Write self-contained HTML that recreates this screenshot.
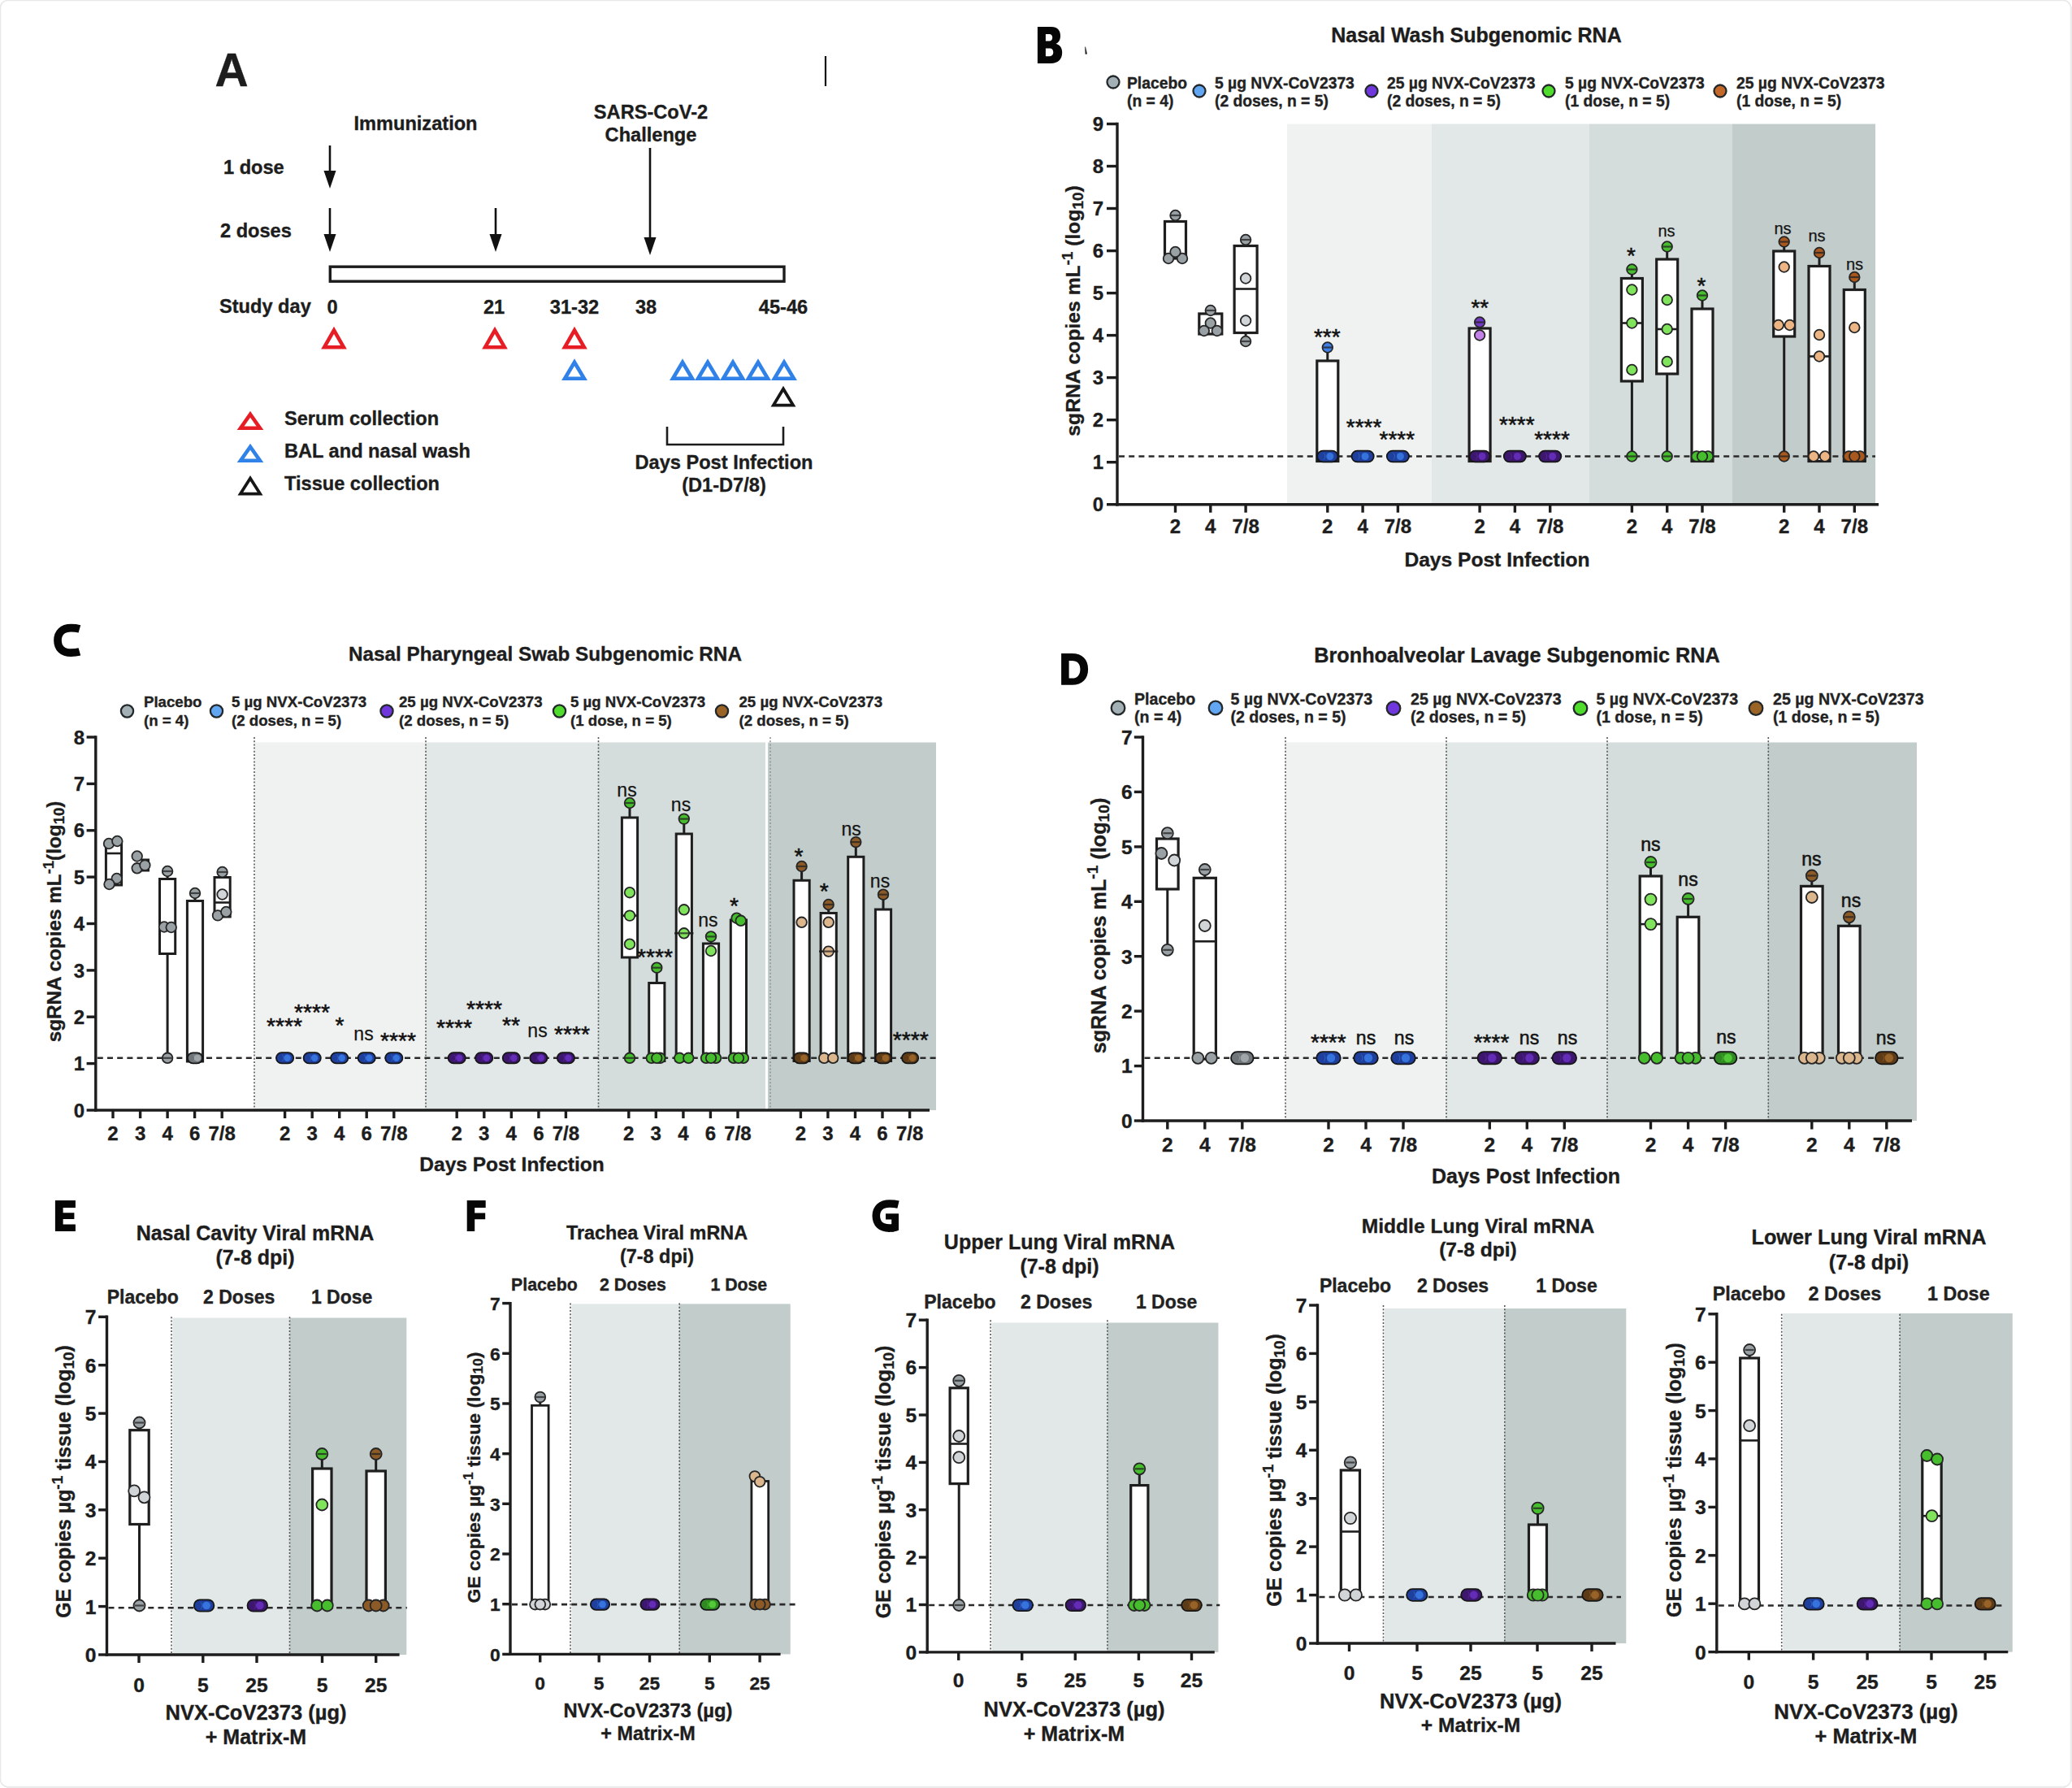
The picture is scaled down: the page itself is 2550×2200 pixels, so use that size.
<!DOCTYPE html>
<html><head><meta charset="utf-8"><title>Figure</title>
<style>html,body{margin:0;padding:0;background:#fff;}svg{display:block;}text{font-family:"Liberation Sans",sans-serif;}</style></head>
<body>
<svg width="2550" height="2200" viewBox="0 0 2550 2200" font-family="'Liberation Sans', sans-serif">
<rect x="0.0" y="0.0" width="2550.0" height="2200.0" fill="#ffffff" stroke="none" stroke-width="0" />
<rect x="0.5" y="0.5" width="2548" height="2198" rx="9" ry="9" fill="#fff" stroke="#e9e9e9" stroke-width="1.6"/>
<rect x="2548.0" y="8.0" width="2.0" height="2184.0" fill="#ececec" stroke="none" stroke-width="0" />
<rect x="8.0" y="2198.0" width="2534.0" height="2.0" fill="#ececec" stroke="none" stroke-width="0" />
<text x="264.5" y="106.0" font-size="57" text-anchor="start" font-weight="bold" fill="#1d1d1d"  stroke="#1d1d1d" stroke-width="0.35">A</text>
<line x1="1016.0" y1="69.0" x2="1016.0" y2="106.0" stroke="#111" stroke-width="2.2" />
<text x="511.5" y="160.0" font-size="23.6" text-anchor="middle" font-weight="bold" fill="#1d1d1d"  stroke="#1d1d1d" stroke-width="0.35">Immunization</text>
<text x="801.0" y="146.0" font-size="23.6" text-anchor="middle" font-weight="bold" fill="#1d1d1d"  stroke="#1d1d1d" stroke-width="0.35">SARS-CoV-2</text>
<text x="801.0" y="174.0" font-size="23.6" text-anchor="middle" font-weight="bold" fill="#1d1d1d"  stroke="#1d1d1d" stroke-width="0.35">Challenge</text>
<text x="275.0" y="214.0" font-size="23.6" text-anchor="start" font-weight="bold" fill="#1d1d1d"  stroke="#1d1d1d" stroke-width="0.35">1 dose</text>
<text x="271.0" y="292.0" font-size="23.6" text-anchor="start" font-weight="bold" fill="#1d1d1d"  stroke="#1d1d1d" stroke-width="0.35">2 doses</text>
<line x1="406.0" y1="179.0" x2="406.0" y2="214.0" stroke="#111" stroke-width="2.6" />
<polygon points="398.5,210.0 413.5,210.0 406.0,232.0" fill="#111"/>
<line x1="406.0" y1="256.0" x2="406.0" y2="292.0" stroke="#111" stroke-width="2.6" />
<polygon points="398.5,288.0 413.5,288.0 406.0,310.0" fill="#111"/>
<line x1="610.0" y1="256.0" x2="610.0" y2="292.0" stroke="#111" stroke-width="2.6" />
<polygon points="602.5,288.0 617.5,288.0 610.0,310.0" fill="#111"/>
<line x1="800.0" y1="182.0" x2="800.0" y2="296.0" stroke="#111" stroke-width="2.6" />
<polygon points="792.5,292.0 807.5,292.0 800.0,314.0" fill="#111"/>
<rect x="406.3" y="328.2" width="558.7" height="18.0" fill="#fff" stroke="#1c1c1c" stroke-width="3.4" />
<text x="270.0" y="385.0" font-size="23.6" text-anchor="start" font-weight="bold" fill="#1d1d1d"  stroke="#1d1d1d" stroke-width="0.35">Study day</text>
<text x="409.0" y="386.0" font-size="23.6" text-anchor="middle" font-weight="bold" fill="#1d1d1d"  stroke="#1d1d1d" stroke-width="0.35">0</text>
<text x="608.0" y="386.0" font-size="23.6" text-anchor="middle" font-weight="bold" fill="#1d1d1d"  stroke="#1d1d1d" stroke-width="0.35">21</text>
<text x="707.0" y="386.0" font-size="23.6" text-anchor="middle" font-weight="bold" fill="#1d1d1d"  stroke="#1d1d1d" stroke-width="0.35">31-32</text>
<text x="795.0" y="386.0" font-size="23.6" text-anchor="middle" font-weight="bold" fill="#1d1d1d"  stroke="#1d1d1d" stroke-width="0.35">38</text>
<text x="964.0" y="386.0" font-size="23.6" text-anchor="middle" font-weight="bold" fill="#1d1d1d"  stroke="#1d1d1d" stroke-width="0.35">45-46</text>
<polygon points="411.0,406.3 399.1,427.2 422.9,427.2" fill="#fff" stroke="#e71d25" stroke-width="4.6" stroke-linejoin="miter"/>
<polygon points="609.0,406.3 597.1,427.2 620.9,427.2" fill="#fff" stroke="#e71d25" stroke-width="4.6" stroke-linejoin="miter"/>
<polygon points="707.0,406.3 695.1,427.2 718.9,427.2" fill="#fff" stroke="#e71d25" stroke-width="4.6" stroke-linejoin="miter"/>
<polygon points="707.0,445.8 695.1,465.7 718.9,465.7" fill="#fff" stroke="#3182e8" stroke-width="4.6" stroke-linejoin="miter"/>
<polygon points="840.0,445.8 828.1,465.7 851.9,465.7" fill="#fff" stroke="#3182e8" stroke-width="4.6" stroke-linejoin="miter"/>
<polygon points="871.0,445.8 859.1,465.7 882.9,465.7" fill="#fff" stroke="#3182e8" stroke-width="4.6" stroke-linejoin="miter"/>
<polygon points="902.0,445.8 890.1,465.7 913.9,465.7" fill="#fff" stroke="#3182e8" stroke-width="4.6" stroke-linejoin="miter"/>
<polygon points="933.0,445.8 921.1,465.7 944.9,465.7" fill="#fff" stroke="#3182e8" stroke-width="4.6" stroke-linejoin="miter"/>
<polygon points="965.0,445.8 953.1,465.7 976.9,465.7" fill="#fff" stroke="#3182e8" stroke-width="4.6" stroke-linejoin="miter"/>
<polygon points="964.0,478.5 951.9,498.6 976.1,498.6" fill="#fff" stroke="#161616" stroke-width="3.8" stroke-linejoin="miter"/>
<polyline points="821,525 821,547 964,547 964,525" fill="none" stroke="#1c1c1c" stroke-width="2.6"/>
<text x="891.0" y="577.0" font-size="23.6" text-anchor="middle" font-weight="bold" fill="#1d1d1d"  stroke="#1d1d1d" stroke-width="0.35">Days Post Infection</text>
<text x="891.0" y="605.0" font-size="23.6" text-anchor="middle" font-weight="bold" fill="#1d1d1d"  stroke="#1d1d1d" stroke-width="0.35">(D1-D7/8)</text>
<polygon points="308.0,509.8 296.1,526.7 319.9,526.7" fill="#fff" stroke="#e71d25" stroke-width="4.6" stroke-linejoin="miter"/>
<polygon points="308.0,549.8 296.1,566.7 319.9,566.7" fill="#fff" stroke="#3182e8" stroke-width="4.6" stroke-linejoin="miter"/>
<polygon points="308.0,588.5 295.9,607.6 320.1,607.6" fill="#fff" stroke="#161616" stroke-width="3.8" stroke-linejoin="miter"/>
<text x="350.0" y="523.0" font-size="23.6" text-anchor="start" font-weight="bold" fill="#1d1d1d"  stroke="#1d1d1d" stroke-width="0.35">Serum collection</text>
<text x="350.0" y="563.0" font-size="23.6" text-anchor="start" font-weight="bold" fill="#1d1d1d"  stroke="#1d1d1d" stroke-width="0.35">BAL and nasal wash</text>
<text x="350.0" y="603.0" font-size="23.6" text-anchor="start" font-weight="bold" fill="#1d1d1d"  stroke="#1d1d1d" stroke-width="0.35">Tissue collection</text>
<rect x="1584.0" y="152.5" width="178.0" height="468.2" fill="#f0f2f1" stroke="none" stroke-width="0" />
<rect x="1762.0" y="152.5" width="194.0" height="468.2" fill="#e2e8e7" stroke="none" stroke-width="0" />
<rect x="1956.0" y="152.5" width="176.0" height="468.2" fill="#d4dddb" stroke="none" stroke-width="0" />
<rect x="2132.0" y="152.5" width="176.0" height="468.2" fill="#c1cccb" stroke="none" stroke-width="0" />
<g transform="translate(1276.9,33.0)"><path fill-rule="evenodd" d="M0,0 H17 C24.5,0 28.1,4.5 28.1,10.9 C28.1,15.5 26.5,19 22.5,20.8 C27.5,22.3 30.3,26 30.3,31.5 C30.3,40 25,44.9 16.5,44.9 H0 Z M10,9 H14.5 C17,9 18.3,10.8 18.3,13.2 C18.3,15.6 17,17.4 14.5,17.4 H10 Z M10,26.4 H15 C17.8,26.4 19.4,28.4 19.4,31.3 C19.4,34.2 17.8,36.2 15,36.2 H10 Z" fill="#060606"/></g>
<path d="M1335.2,57.8 L1336,57.6 L1338,66.6 L1335.6,66.8 Z" fill="#222"/>
<text x="1817.0" y="52.0" font-size="25" text-anchor="middle" font-weight="bold" fill="#1d1d1d"  stroke="#1d1d1d" stroke-width="0.35">Nasal Wash Subgenomic RNA</text>
<circle cx="1370.0" cy="101.0" r="7.5" fill="#a3b0b6" stroke="#23282b" stroke-width="2.3" />
<text x="1387.0" y="109.0" font-size="19.3" text-anchor="start" font-weight="bold" fill="#222"  stroke="#222" stroke-width="0.35">Placebo</text>
<text x="1387.0" y="131.0" font-size="19.3" text-anchor="start" font-weight="bold" fill="#222"  stroke="#222" stroke-width="0.35">(n = 4)</text>
<circle cx="1476.0" cy="112.0" r="7.5" fill="#62a5f0" stroke="#23282b" stroke-width="2.3" />
<text x="1495.0" y="109.0" font-size="19.3" text-anchor="start" font-weight="bold" fill="#222"  stroke="#222" stroke-width="0.35">5 µg NVX-CoV2373</text>
<text x="1495.0" y="131.0" font-size="19.3" text-anchor="start" font-weight="bold" fill="#222"  stroke="#222" stroke-width="0.35">(2 doses, n = 5)</text>
<circle cx="1688.0" cy="112.0" r="7.5" fill="#7038dc" stroke="#23282b" stroke-width="2.3" />
<text x="1707.0" y="109.0" font-size="19.3" text-anchor="start" font-weight="bold" fill="#222"  stroke="#222" stroke-width="0.35">25 µg NVX-CoV2373</text>
<text x="1707.0" y="131.0" font-size="19.3" text-anchor="start" font-weight="bold" fill="#222"  stroke="#222" stroke-width="0.35">(2 doses, n = 5)</text>
<circle cx="1906.0" cy="112.0" r="7.5" fill="#4fdc2c" stroke="#23282b" stroke-width="2.3" />
<text x="1926.0" y="109.0" font-size="19.3" text-anchor="start" font-weight="bold" fill="#222"  stroke="#222" stroke-width="0.35">5 µg NVX-CoV2373</text>
<text x="1926.0" y="131.0" font-size="19.3" text-anchor="start" font-weight="bold" fill="#222"  stroke="#222" stroke-width="0.35">(1 dose, n = 5)</text>
<circle cx="2117.0" cy="112.0" r="7.5" fill="#c4682a" stroke="#23282b" stroke-width="2.3" />
<text x="2137.0" y="109.0" font-size="19.3" text-anchor="start" font-weight="bold" fill="#222"  stroke="#222" stroke-width="0.35">25 µg NVX-CoV2373</text>
<text x="2137.0" y="131.0" font-size="19.3" text-anchor="start" font-weight="bold" fill="#222"  stroke="#222" stroke-width="0.35">(1 dose, n = 5)</text>
<line x1="1375.0" y1="150.8" x2="1375.0" y2="622.4" stroke="#1d1d1d" stroke-width="3.4" />
<line x1="1362.0" y1="620.7" x2="1375.0" y2="620.7" stroke="#1d1d1d" stroke-width="3.4" />
<text x="1358.0" y="629.3" font-size="24" text-anchor="end" font-weight="bold" fill="#1d1d1d"  stroke="#1d1d1d" stroke-width="0.35">0</text>
<line x1="1362.0" y1="568.7" x2="1375.0" y2="568.7" stroke="#1d1d1d" stroke-width="3.4" />
<text x="1358.0" y="577.3" font-size="24" text-anchor="end" font-weight="bold" fill="#1d1d1d"  stroke="#1d1d1d" stroke-width="0.35">1</text>
<line x1="1362.0" y1="516.7" x2="1375.0" y2="516.7" stroke="#1d1d1d" stroke-width="3.4" />
<text x="1358.0" y="525.3" font-size="24" text-anchor="end" font-weight="bold" fill="#1d1d1d"  stroke="#1d1d1d" stroke-width="0.35">2</text>
<line x1="1362.0" y1="464.6" x2="1375.0" y2="464.6" stroke="#1d1d1d" stroke-width="3.4" />
<text x="1358.0" y="473.3" font-size="24" text-anchor="end" font-weight="bold" fill="#1d1d1d"  stroke="#1d1d1d" stroke-width="0.35">3</text>
<line x1="1362.0" y1="412.6" x2="1375.0" y2="412.6" stroke="#1d1d1d" stroke-width="3.4" />
<text x="1358.0" y="421.3" font-size="24" text-anchor="end" font-weight="bold" fill="#1d1d1d"  stroke="#1d1d1d" stroke-width="0.35">4</text>
<line x1="1362.0" y1="360.6" x2="1375.0" y2="360.6" stroke="#1d1d1d" stroke-width="3.4" />
<text x="1358.0" y="369.2" font-size="24" text-anchor="end" font-weight="bold" fill="#1d1d1d"  stroke="#1d1d1d" stroke-width="0.35">5</text>
<line x1="1362.0" y1="308.6" x2="1375.0" y2="308.6" stroke="#1d1d1d" stroke-width="3.4" />
<text x="1358.0" y="317.2" font-size="24" text-anchor="end" font-weight="bold" fill="#1d1d1d"  stroke="#1d1d1d" stroke-width="0.35">6</text>
<line x1="1362.0" y1="256.5" x2="1375.0" y2="256.5" stroke="#1d1d1d" stroke-width="3.4" />
<text x="1358.0" y="265.2" font-size="24" text-anchor="end" font-weight="bold" fill="#1d1d1d"  stroke="#1d1d1d" stroke-width="0.35">7</text>
<line x1="1362.0" y1="204.5" x2="1375.0" y2="204.5" stroke="#1d1d1d" stroke-width="3.4" />
<text x="1358.0" y="213.2" font-size="24" text-anchor="end" font-weight="bold" fill="#1d1d1d"  stroke="#1d1d1d" stroke-width="0.35">8</text>
<line x1="1362.0" y1="152.5" x2="1375.0" y2="152.5" stroke="#1d1d1d" stroke-width="3.4" />
<text x="1358.0" y="161.1" font-size="24" text-anchor="end" font-weight="bold" fill="#1d1d1d"  stroke="#1d1d1d" stroke-width="0.35">9</text>
<text transform="translate(1329.0,382.5) rotate(-90)" font-size="24.7" text-anchor="middle" font-weight="bold" fill="#1d1d1d" stroke="#1d1d1d" stroke-width="0.35">sgRNA copies mL<tspan dy="-9.4" font-size="18.8">-1</tspan><tspan dy="9.4"> (log</tspan><tspan dy="4.2" font-size="18.8">10</tspan><tspan dy="-4.2">)</tspan></text>
<line x1="1373.3" y1="620.7" x2="2312.0" y2="620.7" stroke="#1d1d1d" stroke-width="3.4" />
<line x1="1446.5" y1="620.7" x2="1446.5" y2="630.7" stroke="#1d1d1d" stroke-width="3.4" />
<text x="1446.5" y="656.2" font-size="24" text-anchor="middle" font-weight="bold" fill="#1d1d1d"  stroke="#1d1d1d" stroke-width="0.35">2</text>
<line x1="1489.8" y1="620.7" x2="1489.8" y2="630.7" stroke="#1d1d1d" stroke-width="3.4" />
<text x="1489.8" y="656.2" font-size="24" text-anchor="middle" font-weight="bold" fill="#1d1d1d"  stroke="#1d1d1d" stroke-width="0.35">4</text>
<line x1="1533.1" y1="620.7" x2="1533.1" y2="630.7" stroke="#1d1d1d" stroke-width="3.4" />
<text x="1533.1" y="656.2" font-size="24" text-anchor="middle" font-weight="bold" fill="#1d1d1d"  stroke="#1d1d1d" stroke-width="0.35">7/8</text>
<line x1="1633.8" y1="620.7" x2="1633.8" y2="630.7" stroke="#1d1d1d" stroke-width="3.4" />
<text x="1633.8" y="656.2" font-size="24" text-anchor="middle" font-weight="bold" fill="#1d1d1d"  stroke="#1d1d1d" stroke-width="0.35">2</text>
<line x1="1677.1" y1="620.7" x2="1677.1" y2="630.7" stroke="#1d1d1d" stroke-width="3.4" />
<text x="1677.1" y="656.2" font-size="24" text-anchor="middle" font-weight="bold" fill="#1d1d1d"  stroke="#1d1d1d" stroke-width="0.35">4</text>
<line x1="1720.4" y1="620.7" x2="1720.4" y2="630.7" stroke="#1d1d1d" stroke-width="3.4" />
<text x="1720.4" y="656.2" font-size="24" text-anchor="middle" font-weight="bold" fill="#1d1d1d"  stroke="#1d1d1d" stroke-width="0.35">7/8</text>
<line x1="1821.1" y1="620.7" x2="1821.1" y2="630.7" stroke="#1d1d1d" stroke-width="3.4" />
<text x="1821.1" y="656.2" font-size="24" text-anchor="middle" font-weight="bold" fill="#1d1d1d"  stroke="#1d1d1d" stroke-width="0.35">2</text>
<line x1="1864.4" y1="620.7" x2="1864.4" y2="630.7" stroke="#1d1d1d" stroke-width="3.4" />
<text x="1864.4" y="656.2" font-size="24" text-anchor="middle" font-weight="bold" fill="#1d1d1d"  stroke="#1d1d1d" stroke-width="0.35">4</text>
<line x1="1907.7" y1="620.7" x2="1907.7" y2="630.7" stroke="#1d1d1d" stroke-width="3.4" />
<text x="1907.7" y="656.2" font-size="24" text-anchor="middle" font-weight="bold" fill="#1d1d1d"  stroke="#1d1d1d" stroke-width="0.35">7/8</text>
<line x1="2008.4" y1="620.7" x2="2008.4" y2="630.7" stroke="#1d1d1d" stroke-width="3.4" />
<text x="2008.4" y="656.2" font-size="24" text-anchor="middle" font-weight="bold" fill="#1d1d1d"  stroke="#1d1d1d" stroke-width="0.35">2</text>
<line x1="2051.7" y1="620.7" x2="2051.7" y2="630.7" stroke="#1d1d1d" stroke-width="3.4" />
<text x="2051.7" y="656.2" font-size="24" text-anchor="middle" font-weight="bold" fill="#1d1d1d"  stroke="#1d1d1d" stroke-width="0.35">4</text>
<line x1="2095.0" y1="620.7" x2="2095.0" y2="630.7" stroke="#1d1d1d" stroke-width="3.4" />
<text x="2095.0" y="656.2" font-size="24" text-anchor="middle" font-weight="bold" fill="#1d1d1d"  stroke="#1d1d1d" stroke-width="0.35">7/8</text>
<line x1="2195.7" y1="620.7" x2="2195.7" y2="630.7" stroke="#1d1d1d" stroke-width="3.4" />
<text x="2195.7" y="656.2" font-size="24" text-anchor="middle" font-weight="bold" fill="#1d1d1d"  stroke="#1d1d1d" stroke-width="0.35">2</text>
<line x1="2239.0" y1="620.7" x2="2239.0" y2="630.7" stroke="#1d1d1d" stroke-width="3.4" />
<text x="2239.0" y="656.2" font-size="24" text-anchor="middle" font-weight="bold" fill="#1d1d1d"  stroke="#1d1d1d" stroke-width="0.35">4</text>
<line x1="2282.3" y1="620.7" x2="2282.3" y2="630.7" stroke="#1d1d1d" stroke-width="3.4" />
<text x="2282.3" y="656.2" font-size="24" text-anchor="middle" font-weight="bold" fill="#1d1d1d"  stroke="#1d1d1d" stroke-width="0.35">7/8</text>
<text x="1842.5" y="696.5" font-size="24.6" text-anchor="middle" font-weight="bold" fill="#1d1d1d"  stroke="#1d1d1d" stroke-width="0.35">Days Post Infection</text>
<line x1="1377.0" y1="561.5" x2="2308.0" y2="561.5" stroke="#2a2a2a" stroke-width="2.7" stroke-dasharray="7 5.2"/>
<line x1="1446.5" y1="272.5" x2="1446.5" y2="265.0" stroke="#1e1e1e" stroke-width="3" />
<rect x="1433.5" y="272.5" width="26.0" height="45.5" fill="#ffffff" stroke="#1e1e1e" stroke-width="3.2" />
<circle cx="1446.5" cy="265.0" r="6.3" fill="#9aa1a5" stroke="#262626" stroke-width="1.8" />
<line x1="1441.0" y1="265.0" x2="1452.0" y2="265.0" stroke="#222" stroke-width="2.2" opacity="0.75"/>
<circle cx="1438.0" cy="318.0" r="6.3" fill="#9aa1a5" stroke="#262626" stroke-width="1.8" />
<circle cx="1455.0" cy="318.0" r="6.3" fill="#9aa1a5" stroke="#262626" stroke-width="1.8" />
<circle cx="1446.5" cy="310.0" r="6.3" fill="#9aa1a5" stroke="#262626" stroke-width="1.8" />
<line x1="1489.8" y1="386.0" x2="1489.8" y2="382.0" stroke="#1e1e1e" stroke-width="3" />
<rect x="1475.8" y="386.0" width="28.0" height="25.0" fill="#ffffff" stroke="#1e1e1e" stroke-width="3.2" />
<circle cx="1489.8" cy="382.0" r="6.3" fill="#9aa1a5" stroke="#262626" stroke-width="1.8" />
<line x1="1484.3" y1="382.0" x2="1495.3" y2="382.0" stroke="#222" stroke-width="2.2" opacity="0.75"/>
<circle cx="1489.8" cy="397.5" r="6.3" fill="#9aa1a5" stroke="#262626" stroke-width="1.8" />
<circle cx="1481.8" cy="407.0" r="6.3" fill="#9aa1a5" stroke="#262626" stroke-width="1.8" />
<circle cx="1497.8" cy="407.0" r="6.3" fill="#9aa1a5" stroke="#262626" stroke-width="1.8" />
<line x1="1533.1" y1="302.5" x2="1533.1" y2="295.0" stroke="#1e1e1e" stroke-width="3" />
<line x1="1533.1" y1="409.5" x2="1533.1" y2="420.0" stroke="#1e1e1e" stroke-width="3" />
<rect x="1519.1" y="302.5" width="28.0" height="107.0" fill="#ffffff" stroke="#1e1e1e" stroke-width="3.2" />
<line x1="1519.1" y1="355.5" x2="1547.1" y2="355.5" stroke="#1e1e1e" stroke-width="2.6" />
<circle cx="1533.1" cy="295.0" r="6.3" fill="#9aa1a5" stroke="#262626" stroke-width="1.8" />
<line x1="1527.6" y1="295.0" x2="1538.6" y2="295.0" stroke="#222" stroke-width="2.2" opacity="0.75"/>
<circle cx="1533.1" cy="342.5" r="6.3" fill="#d2d5d7" stroke="#262626" stroke-width="1.8" />
<circle cx="1533.1" cy="394.5" r="6.3" fill="#d2d5d7" stroke="#262626" stroke-width="1.8" />
<circle cx="1533.1" cy="420.0" r="6.3" fill="#9aa1a5" stroke="#262626" stroke-width="1.8" />
<line x1="1527.6" y1="420.0" x2="1538.6" y2="420.0" stroke="#222" stroke-width="2.2" opacity="0.75"/>
<line x1="1633.8" y1="444.0" x2="1633.8" y2="427.5" stroke="#1e1e1e" stroke-width="3" />
<rect x="1620.8" y="444.0" width="26.0" height="123.5" fill="#ffffff" stroke="#1e1e1e" stroke-width="3.2" />
<circle cx="1633.8" cy="427.5" r="6.3" fill="#3f80e6" stroke="#262626" stroke-width="1.8" />
<line x1="1628.3" y1="427.5" x2="1639.3" y2="427.5" stroke="#222" stroke-width="2.2" opacity="0.75"/>
<rect x="1621.2" y="554.6" width="25.2" height="13.8" rx="6.9" fill="#1f3f9c" stroke="#161616" stroke-width="1.8"/>
<circle cx="1636.8" cy="561.5" r="4.5" fill="#3b7be8" stroke="none" stroke-width="0" opacity="0.85"/>
<path d="M1629.3,557.7 a5.5,5.5 0 0 1 0,7.6 M1634.1,557.7 a5.5,5.5 0 0 1 0,7.6" fill="none" stroke="#3b7be8" stroke-width="1" opacity="0.55"/>
<rect x="1663.5" y="554.6" width="27.2" height="13.8" rx="6.9" fill="#1f3f9c" stroke="#161616" stroke-width="1.8"/>
<circle cx="1680.1" cy="561.5" r="4.5" fill="#3b7be8" stroke="none" stroke-width="0" opacity="0.85"/>
<path d="M1671.6,557.7 a5.5,5.5 0 0 1 0,7.6 M1676.4,557.7 a5.5,5.5 0 0 1 0,7.6" fill="none" stroke="#3b7be8" stroke-width="1" opacity="0.55"/>
<rect x="1706.8" y="554.6" width="27.2" height="13.8" rx="6.9" fill="#1f3f9c" stroke="#161616" stroke-width="1.8"/>
<circle cx="1723.4" cy="561.5" r="4.5" fill="#3b7be8" stroke="none" stroke-width="0" opacity="0.85"/>
<path d="M1714.9,557.7 a5.5,5.5 0 0 1 0,7.6 M1719.7,557.7 a5.5,5.5 0 0 1 0,7.6" fill="none" stroke="#3b7be8" stroke-width="1" opacity="0.55"/>
<text x="1633.3" y="424.1" font-size="28" text-anchor="middle" font-weight="normal" fill="#111" stroke="#111" stroke-width="0.5">***</text>
<text x="1678.6" y="534.8" font-size="28" text-anchor="middle" font-weight="normal" fill="#111" stroke="#111" stroke-width="0.5">****</text>
<text x="1719.3" y="549.5" font-size="28" text-anchor="middle" font-weight="normal" fill="#111" stroke="#111" stroke-width="0.5">****</text>
<line x1="1821.1" y1="404.0" x2="1821.1" y2="396.5" stroke="#1e1e1e" stroke-width="3" />
<rect x="1808.1" y="404.0" width="26.0" height="163.5" fill="#ffffff" stroke="#1e1e1e" stroke-width="3.2" />
<circle cx="1821.1" cy="396.5" r="6.3" fill="#7238c4" stroke="#262626" stroke-width="1.8" />
<line x1="1815.6" y1="396.5" x2="1826.6" y2="396.5" stroke="#222" stroke-width="2.2" opacity="0.75"/>
<circle cx="1821.1" cy="412.5" r="6.3" fill="#c581ea" stroke="#262626" stroke-width="1.8" />
<rect x="1808.5" y="554.6" width="25.2" height="13.8" rx="6.9" fill="#3c176d" stroke="#161616" stroke-width="1.8"/>
<circle cx="1824.1" cy="561.5" r="4.5" fill="#6a30c2" stroke="none" stroke-width="0" opacity="0.85"/>
<path d="M1816.6,557.7 a5.5,5.5 0 0 1 0,7.6 M1821.4,557.7 a5.5,5.5 0 0 1 0,7.6" fill="none" stroke="#6a30c2" stroke-width="1" opacity="0.55"/>
<rect x="1850.8" y="554.6" width="27.2" height="13.8" rx="6.9" fill="#3c176d" stroke="#161616" stroke-width="1.8"/>
<circle cx="1867.4" cy="561.5" r="4.5" fill="#6a30c2" stroke="none" stroke-width="0" opacity="0.85"/>
<path d="M1858.9,557.7 a5.5,5.5 0 0 1 0,7.6 M1863.7,557.7 a5.5,5.5 0 0 1 0,7.6" fill="none" stroke="#6a30c2" stroke-width="1" opacity="0.55"/>
<rect x="1894.1" y="554.6" width="27.2" height="13.8" rx="6.9" fill="#3c176d" stroke="#161616" stroke-width="1.8"/>
<circle cx="1910.7" cy="561.5" r="4.5" fill="#6a30c2" stroke="none" stroke-width="0" opacity="0.85"/>
<path d="M1902.2,557.7 a5.5,5.5 0 0 1 0,7.6 M1907.0,557.7 a5.5,5.5 0 0 1 0,7.6" fill="none" stroke="#6a30c2" stroke-width="1" opacity="0.55"/>
<text x="1821.3" y="387.9" font-size="28" text-anchor="middle" font-weight="normal" fill="#111" stroke="#111" stroke-width="0.5">**</text>
<text x="1866.8" y="531.6" font-size="28" text-anchor="middle" font-weight="normal" fill="#111" stroke="#111" stroke-width="0.5">****</text>
<text x="1910.0" y="549.5" font-size="28" text-anchor="middle" font-weight="normal" fill="#111" stroke="#111" stroke-width="0.5">****</text>
<line x1="2008.4" y1="342.5" x2="2008.4" y2="331.5" stroke="#1e1e1e" stroke-width="3" />
<line x1="2008.4" y1="469.0" x2="2008.4" y2="561.5" stroke="#1e1e1e" stroke-width="3" />
<rect x="1995.4" y="342.5" width="26.0" height="126.5" fill="#ffffff" stroke="#1e1e1e" stroke-width="3.2" />
<line x1="1995.4" y1="397.5" x2="2021.4" y2="397.5" stroke="#1e1e1e" stroke-width="2.6" />
<circle cx="2008.4" cy="331.5" r="6.3" fill="#46bd2d" stroke="#262626" stroke-width="1.8" />
<line x1="2002.9" y1="331.5" x2="2013.9" y2="331.5" stroke="#222" stroke-width="2.2" opacity="0.75"/>
<circle cx="2008.4" cy="356.5" r="6.3" fill="#7fe45c" stroke="#262626" stroke-width="1.8" />
<circle cx="2008.4" cy="397.5" r="6.3" fill="#7fe45c" stroke="#262626" stroke-width="1.8" />
<circle cx="2008.4" cy="455.0" r="6.3" fill="#7fe45c" stroke="#262626" stroke-width="1.8" />
<circle cx="2008.4" cy="561.5" r="6.3" fill="#46bd2d" stroke="#262626" stroke-width="1.8" />
<line x1="2002.9" y1="561.5" x2="2013.9" y2="561.5" stroke="#222" stroke-width="2.2" opacity="0.75"/>
<text x="2007.5" y="323.9" font-size="28" text-anchor="middle" font-weight="normal" fill="#111" stroke="#111" stroke-width="0.5">*</text>
<line x1="2051.7" y1="319.0" x2="2051.7" y2="303.5" stroke="#1e1e1e" stroke-width="3" />
<line x1="2051.7" y1="460.0" x2="2051.7" y2="561.5" stroke="#1e1e1e" stroke-width="3" />
<rect x="2038.7" y="319.0" width="26.0" height="141.0" fill="#ffffff" stroke="#1e1e1e" stroke-width="3.2" />
<line x1="2038.7" y1="405.0" x2="2064.7" y2="405.0" stroke="#1e1e1e" stroke-width="2.6" />
<circle cx="2051.7" cy="303.5" r="6.3" fill="#46bd2d" stroke="#262626" stroke-width="1.8" />
<line x1="2046.2" y1="303.5" x2="2057.2" y2="303.5" stroke="#222" stroke-width="2.2" opacity="0.75"/>
<circle cx="2051.7" cy="369.0" r="6.3" fill="#7fe45c" stroke="#262626" stroke-width="1.8" />
<circle cx="2051.7" cy="405.0" r="6.3" fill="#7fe45c" stroke="#262626" stroke-width="1.8" />
<circle cx="2051.7" cy="445.0" r="6.3" fill="#7fe45c" stroke="#262626" stroke-width="1.8" />
<circle cx="2051.7" cy="561.5" r="6.3" fill="#46bd2d" stroke="#262626" stroke-width="1.8" />
<line x1="2046.2" y1="561.5" x2="2057.2" y2="561.5" stroke="#222" stroke-width="2.2" opacity="0.75"/>
<text x="2051.0" y="290.5" font-size="20" text-anchor="middle" font-weight="normal" fill="#151515" stroke="#151515" stroke-width="0.25">ns</text>
<line x1="2095.0" y1="380.0" x2="2095.0" y2="363.5" stroke="#1e1e1e" stroke-width="3" />
<rect x="2082.0" y="380.0" width="26.0" height="187.5" fill="#ffffff" stroke="#1e1e1e" stroke-width="3.2" />
<circle cx="2095.0" cy="363.5" r="6.3" fill="#46bd2d" stroke="#262626" stroke-width="1.8" />
<line x1="2089.5" y1="363.5" x2="2100.5" y2="363.5" stroke="#222" stroke-width="2.2" opacity="0.75"/>
<circle cx="2088.0" cy="561.5" r="6.3" fill="#46bd2d" stroke="#262626" stroke-width="1.8" />
<circle cx="2102.0" cy="561.5" r="6.3" fill="#46bd2d" stroke="#262626" stroke-width="1.8" />
<circle cx="2095.0" cy="561.5" r="6.3" fill="#46bd2d" stroke="#262626" stroke-width="1.8" />
<text x="2094.0" y="360.5" font-size="28" text-anchor="middle" font-weight="normal" fill="#111" stroke="#111" stroke-width="0.5">*</text>
<line x1="2195.7" y1="309.0" x2="2195.7" y2="297.5" stroke="#1e1e1e" stroke-width="3" />
<line x1="2195.7" y1="414.0" x2="2195.7" y2="561.5" stroke="#1e1e1e" stroke-width="3" />
<rect x="2182.7" y="309.0" width="26.0" height="105.0" fill="#ffffff" stroke="#1e1e1e" stroke-width="3.2" />
<line x1="2182.7" y1="400.0" x2="2208.7" y2="400.0" stroke="#1e1e1e" stroke-width="2.6" />
<circle cx="2195.7" cy="297.5" r="6.3" fill="#a9581e" stroke="#262626" stroke-width="1.8" />
<line x1="2190.2" y1="297.5" x2="2201.2" y2="297.5" stroke="#222" stroke-width="2.2" opacity="0.75"/>
<circle cx="2195.7" cy="328.5" r="6.3" fill="#ecb583" stroke="#262626" stroke-width="1.8" />
<circle cx="2188.7" cy="400.0" r="6.3" fill="#ecb583" stroke="#262626" stroke-width="1.8" />
<circle cx="2202.7" cy="400.0" r="6.3" fill="#ecb583" stroke="#262626" stroke-width="1.8" />
<circle cx="2195.7" cy="561.5" r="6.3" fill="#a9581e" stroke="#262626" stroke-width="1.8" />
<line x1="2190.2" y1="561.5" x2="2201.2" y2="561.5" stroke="#222" stroke-width="2.2" opacity="0.75"/>
<text x="2194.0" y="287.5" font-size="20" text-anchor="middle" font-weight="normal" fill="#151515" stroke="#151515" stroke-width="0.25">ns</text>
<line x1="2239.0" y1="327.5" x2="2239.0" y2="311.0" stroke="#1e1e1e" stroke-width="3" />
<rect x="2226.0" y="327.5" width="26.0" height="240.0" fill="#ffffff" stroke="#1e1e1e" stroke-width="3.2" />
<line x1="2226.0" y1="438.5" x2="2252.0" y2="438.5" stroke="#1e1e1e" stroke-width="2.6" />
<circle cx="2239.0" cy="311.0" r="6.3" fill="#a9581e" stroke="#262626" stroke-width="1.8" />
<line x1="2233.5" y1="311.0" x2="2244.5" y2="311.0" stroke="#222" stroke-width="2.2" opacity="0.75"/>
<circle cx="2239.0" cy="412.0" r="6.3" fill="#ecb583" stroke="#262626" stroke-width="1.8" />
<circle cx="2239.0" cy="438.5" r="6.3" fill="#ecb583" stroke="#262626" stroke-width="1.8" />
<circle cx="2232.0" cy="561.5" r="6.3" fill="#ecb583" stroke="#262626" stroke-width="1.8" />
<circle cx="2246.0" cy="561.5" r="6.3" fill="#ecb583" stroke="#262626" stroke-width="1.8" />
<text x="2236.0" y="296.5" font-size="20" text-anchor="middle" font-weight="normal" fill="#151515" stroke="#151515" stroke-width="0.25">ns</text>
<line x1="2282.3" y1="356.5" x2="2282.3" y2="341.0" stroke="#1e1e1e" stroke-width="3" />
<rect x="2269.3" y="356.5" width="26.0" height="211.0" fill="#ffffff" stroke="#1e1e1e" stroke-width="3.2" />
<circle cx="2282.3" cy="341.0" r="6.3" fill="#a9581e" stroke="#262626" stroke-width="1.8" />
<line x1="2276.8" y1="341.0" x2="2287.8" y2="341.0" stroke="#222" stroke-width="2.2" opacity="0.75"/>
<circle cx="2282.3" cy="403.0" r="6.3" fill="#ecb583" stroke="#262626" stroke-width="1.8" />
<circle cx="2275.3" cy="561.5" r="6.3" fill="#a9581e" stroke="#262626" stroke-width="1.8" />
<circle cx="2289.3" cy="561.5" r="6.3" fill="#a9581e" stroke="#262626" stroke-width="1.8" />
<circle cx="2282.3" cy="561.5" r="6.3" fill="#a9581e" stroke="#262626" stroke-width="1.8" />
<text x="2282.5" y="331.5" font-size="20" text-anchor="middle" font-weight="normal" fill="#151515" stroke="#151515" stroke-width="0.25">ns</text>
<rect x="314.0" y="913.5" width="210.0" height="452.5" fill="#f0f2f1" stroke="none" stroke-width="0" />
<rect x="524.0" y="913.5" width="213.0" height="452.5" fill="#e2e8e7" stroke="none" stroke-width="0" />
<rect x="737.0" y="913.5" width="205.0" height="452.5" fill="#d4dddb" stroke="none" stroke-width="0" />
<rect x="945.0" y="913.5" width="207.0" height="452.5" fill="#c1cccb" stroke="none" stroke-width="0" />
<line x1="313.0" y1="907.0" x2="313.0" y2="1366.0" stroke="#555" stroke-width="1.6" stroke-dasharray="2 2.2"/>
<line x1="524.0" y1="907.0" x2="524.0" y2="1366.0" stroke="#555" stroke-width="1.6" stroke-dasharray="2 2.2"/>
<line x1="736.5" y1="907.0" x2="736.5" y2="1366.0" stroke="#555" stroke-width="1.6" stroke-dasharray="2 2.2"/>
<line x1="948.0" y1="907.0" x2="948.0" y2="1366.0" stroke="#8e9695" stroke-width="1.6" stroke-dasharray="2 2.2"/>
<g transform="translate(66.0,767.9)"><path d="M31.9,6 C28,4.9 25,4.7 21.5,4.7 C11,4.7 5,10.5 5,20 C5,29.5 11,35.3 21.5,35.3 C25,35.3 28,35.1 31.9,34" fill="none" stroke="#060606" stroke-width="9.7"/></g>
<text x="671.0" y="812.5" font-size="24.25" text-anchor="middle" font-weight="bold" fill="#1d1d1d"  stroke="#1d1d1d" stroke-width="0.35">Nasal Pharyngeal Swab Subgenomic RNA</text>
<circle cx="156.5" cy="875.0" r="7.6" fill="#a3b0b6" stroke="#23282b" stroke-width="2.3" />
<text x="177.0" y="870.0" font-size="18.65" text-anchor="start" font-weight="bold" fill="#222"  stroke="#222" stroke-width="0.35">Placebo</text>
<text x="177.0" y="893.0" font-size="18.65" text-anchor="start" font-weight="bold" fill="#222"  stroke="#222" stroke-width="0.35">(n = 4)</text>
<circle cx="266.5" cy="875.0" r="7.6" fill="#62a5f0" stroke="#23282b" stroke-width="2.3" />
<text x="285.0" y="870.0" font-size="18.65" text-anchor="start" font-weight="bold" fill="#222"  stroke="#222" stroke-width="0.35">5 µg NVX-CoV2373</text>
<text x="285.0" y="893.0" font-size="18.65" text-anchor="start" font-weight="bold" fill="#222"  stroke="#222" stroke-width="0.35">(2 doses, n = 5)</text>
<circle cx="476.0" cy="875.0" r="7.6" fill="#7038dc" stroke="#23282b" stroke-width="2.3" />
<text x="491.0" y="870.0" font-size="18.65" text-anchor="start" font-weight="bold" fill="#222"  stroke="#222" stroke-width="0.35">25 µg NVX-CoV2373</text>
<text x="491.0" y="893.0" font-size="18.65" text-anchor="start" font-weight="bold" fill="#222"  stroke="#222" stroke-width="0.35">(2 doses, n = 5)</text>
<circle cx="688.5" cy="875.0" r="7.6" fill="#4fdc2c" stroke="#23282b" stroke-width="2.3" />
<text x="702.0" y="870.0" font-size="18.65" text-anchor="start" font-weight="bold" fill="#222"  stroke="#222" stroke-width="0.35">5 µg NVX-CoV2373</text>
<text x="702.0" y="893.0" font-size="18.65" text-anchor="start" font-weight="bold" fill="#222"  stroke="#222" stroke-width="0.35">(1 dose, n = 5)</text>
<circle cx="888.5" cy="875.0" r="7.6" fill="#9a6426" stroke="#23282b" stroke-width="2.3" />
<text x="909.5" y="870.0" font-size="18.65" text-anchor="start" font-weight="bold" fill="#222"  stroke="#222" stroke-width="0.35">25 µg NVX-CoV2373</text>
<text x="909.5" y="893.0" font-size="18.65" text-anchor="start" font-weight="bold" fill="#222"  stroke="#222" stroke-width="0.35">(2 doses, n = 5)</text>
<line x1="117.8" y1="905.3" x2="117.8" y2="1367.7" stroke="#1d1d1d" stroke-width="3.4" />
<line x1="106.6" y1="1366.0" x2="117.8" y2="1366.0" stroke="#1d1d1d" stroke-width="3.4" />
<text x="104.2" y="1374.6" font-size="24" text-anchor="end" font-weight="bold" fill="#1d1d1d"  stroke="#1d1d1d" stroke-width="0.35">0</text>
<line x1="106.6" y1="1308.6" x2="117.8" y2="1308.6" stroke="#1d1d1d" stroke-width="3.4" />
<text x="104.2" y="1317.3" font-size="24" text-anchor="end" font-weight="bold" fill="#1d1d1d"  stroke="#1d1d1d" stroke-width="0.35">1</text>
<line x1="106.6" y1="1251.2" x2="117.8" y2="1251.2" stroke="#1d1d1d" stroke-width="3.4" />
<text x="104.2" y="1259.9" font-size="24" text-anchor="end" font-weight="bold" fill="#1d1d1d"  stroke="#1d1d1d" stroke-width="0.35">2</text>
<line x1="106.6" y1="1193.9" x2="117.8" y2="1193.9" stroke="#1d1d1d" stroke-width="3.4" />
<text x="104.2" y="1202.5" font-size="24" text-anchor="end" font-weight="bold" fill="#1d1d1d"  stroke="#1d1d1d" stroke-width="0.35">3</text>
<line x1="106.6" y1="1136.5" x2="117.8" y2="1136.5" stroke="#1d1d1d" stroke-width="3.4" />
<text x="104.2" y="1145.1" font-size="24" text-anchor="end" font-weight="bold" fill="#1d1d1d"  stroke="#1d1d1d" stroke-width="0.35">4</text>
<line x1="106.6" y1="1079.1" x2="117.8" y2="1079.1" stroke="#1d1d1d" stroke-width="3.4" />
<text x="104.2" y="1087.8" font-size="24" text-anchor="end" font-weight="bold" fill="#1d1d1d"  stroke="#1d1d1d" stroke-width="0.35">5</text>
<line x1="106.6" y1="1021.8" x2="117.8" y2="1021.8" stroke="#1d1d1d" stroke-width="3.4" />
<text x="104.2" y="1030.4" font-size="24" text-anchor="end" font-weight="bold" fill="#1d1d1d"  stroke="#1d1d1d" stroke-width="0.35">6</text>
<line x1="106.6" y1="964.4" x2="117.8" y2="964.4" stroke="#1d1d1d" stroke-width="3.4" />
<text x="104.2" y="973.0" font-size="24" text-anchor="end" font-weight="bold" fill="#1d1d1d"  stroke="#1d1d1d" stroke-width="0.35">7</text>
<line x1="106.6" y1="907.0" x2="117.8" y2="907.0" stroke="#1d1d1d" stroke-width="3.4" />
<text x="104.2" y="915.6" font-size="24" text-anchor="end" font-weight="bold" fill="#1d1d1d"  stroke="#1d1d1d" stroke-width="0.35">8</text>
<text transform="translate(75.3,1134.0) rotate(-90)" font-size="24.3" text-anchor="middle" font-weight="bold" fill="#1d1d1d" stroke="#1d1d1d" stroke-width="0.35">sgRNA copies mL<tspan dy="-9.2" font-size="18.5">-1</tspan><tspan dy="9.2">(log</tspan><tspan dy="4.1" font-size="18.5">10</tspan><tspan dy="-4.1">)</tspan></text>
<line x1="116.1" y1="1366.0" x2="1144.0" y2="1366.0" stroke="#1d1d1d" stroke-width="3.4" />
<line x1="139.0" y1="1366.0" x2="139.0" y2="1376.0" stroke="#1d1d1d" stroke-width="3.4" />
<text x="139.0" y="1402.5" font-size="24" text-anchor="middle" font-weight="bold" fill="#1d1d1d"  stroke="#1d1d1d" stroke-width="0.35">2</text>
<line x1="172.6" y1="1366.0" x2="172.6" y2="1376.0" stroke="#1d1d1d" stroke-width="3.4" />
<text x="172.6" y="1402.5" font-size="24" text-anchor="middle" font-weight="bold" fill="#1d1d1d"  stroke="#1d1d1d" stroke-width="0.35">3</text>
<line x1="206.1" y1="1366.0" x2="206.1" y2="1376.0" stroke="#1d1d1d" stroke-width="3.4" />
<text x="206.1" y="1402.5" font-size="24" text-anchor="middle" font-weight="bold" fill="#1d1d1d"  stroke="#1d1d1d" stroke-width="0.35">4</text>
<line x1="239.6" y1="1366.0" x2="239.6" y2="1376.0" stroke="#1d1d1d" stroke-width="3.4" />
<text x="239.6" y="1402.5" font-size="24" text-anchor="middle" font-weight="bold" fill="#1d1d1d"  stroke="#1d1d1d" stroke-width="0.35">6</text>
<line x1="273.2" y1="1366.0" x2="273.2" y2="1376.0" stroke="#1d1d1d" stroke-width="3.4" />
<text x="273.2" y="1402.5" font-size="24" text-anchor="middle" font-weight="bold" fill="#1d1d1d"  stroke="#1d1d1d" stroke-width="0.35">7/8</text>
<line x1="350.6" y1="1366.0" x2="350.6" y2="1376.0" stroke="#1d1d1d" stroke-width="3.4" />
<text x="350.6" y="1402.5" font-size="24" text-anchor="middle" font-weight="bold" fill="#1d1d1d"  stroke="#1d1d1d" stroke-width="0.35">2</text>
<line x1="384.2" y1="1366.0" x2="384.2" y2="1376.0" stroke="#1d1d1d" stroke-width="3.4" />
<text x="384.2" y="1402.5" font-size="24" text-anchor="middle" font-weight="bold" fill="#1d1d1d"  stroke="#1d1d1d" stroke-width="0.35">3</text>
<line x1="417.7" y1="1366.0" x2="417.7" y2="1376.0" stroke="#1d1d1d" stroke-width="3.4" />
<text x="417.7" y="1402.5" font-size="24" text-anchor="middle" font-weight="bold" fill="#1d1d1d"  stroke="#1d1d1d" stroke-width="0.35">4</text>
<line x1="451.2" y1="1366.0" x2="451.2" y2="1376.0" stroke="#1d1d1d" stroke-width="3.4" />
<text x="451.2" y="1402.5" font-size="24" text-anchor="middle" font-weight="bold" fill="#1d1d1d"  stroke="#1d1d1d" stroke-width="0.35">6</text>
<line x1="484.8" y1="1366.0" x2="484.8" y2="1376.0" stroke="#1d1d1d" stroke-width="3.4" />
<text x="484.8" y="1402.5" font-size="24" text-anchor="middle" font-weight="bold" fill="#1d1d1d"  stroke="#1d1d1d" stroke-width="0.35">7/8</text>
<line x1="562.2" y1="1366.0" x2="562.2" y2="1376.0" stroke="#1d1d1d" stroke-width="3.4" />
<text x="562.2" y="1402.5" font-size="24" text-anchor="middle" font-weight="bold" fill="#1d1d1d"  stroke="#1d1d1d" stroke-width="0.35">2</text>
<line x1="595.8" y1="1366.0" x2="595.8" y2="1376.0" stroke="#1d1d1d" stroke-width="3.4" />
<text x="595.8" y="1402.5" font-size="24" text-anchor="middle" font-weight="bold" fill="#1d1d1d"  stroke="#1d1d1d" stroke-width="0.35">3</text>
<line x1="629.3" y1="1366.0" x2="629.3" y2="1376.0" stroke="#1d1d1d" stroke-width="3.4" />
<text x="629.3" y="1402.5" font-size="24" text-anchor="middle" font-weight="bold" fill="#1d1d1d"  stroke="#1d1d1d" stroke-width="0.35">4</text>
<line x1="662.9" y1="1366.0" x2="662.9" y2="1376.0" stroke="#1d1d1d" stroke-width="3.4" />
<text x="662.9" y="1402.5" font-size="24" text-anchor="middle" font-weight="bold" fill="#1d1d1d"  stroke="#1d1d1d" stroke-width="0.35">6</text>
<line x1="696.4" y1="1366.0" x2="696.4" y2="1376.0" stroke="#1d1d1d" stroke-width="3.4" />
<text x="696.4" y="1402.5" font-size="24" text-anchor="middle" font-weight="bold" fill="#1d1d1d"  stroke="#1d1d1d" stroke-width="0.35">7/8</text>
<line x1="773.8" y1="1366.0" x2="773.8" y2="1376.0" stroke="#1d1d1d" stroke-width="3.4" />
<text x="773.8" y="1402.5" font-size="24" text-anchor="middle" font-weight="bold" fill="#1d1d1d"  stroke="#1d1d1d" stroke-width="0.35">2</text>
<line x1="807.3" y1="1366.0" x2="807.3" y2="1376.0" stroke="#1d1d1d" stroke-width="3.4" />
<text x="807.3" y="1402.5" font-size="24" text-anchor="middle" font-weight="bold" fill="#1d1d1d"  stroke="#1d1d1d" stroke-width="0.35">3</text>
<line x1="840.9" y1="1366.0" x2="840.9" y2="1376.0" stroke="#1d1d1d" stroke-width="3.4" />
<text x="840.9" y="1402.5" font-size="24" text-anchor="middle" font-weight="bold" fill="#1d1d1d"  stroke="#1d1d1d" stroke-width="0.35">4</text>
<line x1="874.4" y1="1366.0" x2="874.4" y2="1376.0" stroke="#1d1d1d" stroke-width="3.4" />
<text x="874.4" y="1402.5" font-size="24" text-anchor="middle" font-weight="bold" fill="#1d1d1d"  stroke="#1d1d1d" stroke-width="0.35">6</text>
<line x1="908.0" y1="1366.0" x2="908.0" y2="1376.0" stroke="#1d1d1d" stroke-width="3.4" />
<text x="908.0" y="1402.5" font-size="24" text-anchor="middle" font-weight="bold" fill="#1d1d1d"  stroke="#1d1d1d" stroke-width="0.35">7/8</text>
<line x1="985.4" y1="1366.0" x2="985.4" y2="1376.0" stroke="#1d1d1d" stroke-width="3.4" />
<text x="985.4" y="1402.5" font-size="24" text-anchor="middle" font-weight="bold" fill="#1d1d1d"  stroke="#1d1d1d" stroke-width="0.35">2</text>
<line x1="1018.9" y1="1366.0" x2="1018.9" y2="1376.0" stroke="#1d1d1d" stroke-width="3.4" />
<text x="1018.9" y="1402.5" font-size="24" text-anchor="middle" font-weight="bold" fill="#1d1d1d"  stroke="#1d1d1d" stroke-width="0.35">3</text>
<line x1="1052.5" y1="1366.0" x2="1052.5" y2="1376.0" stroke="#1d1d1d" stroke-width="3.4" />
<text x="1052.5" y="1402.5" font-size="24" text-anchor="middle" font-weight="bold" fill="#1d1d1d"  stroke="#1d1d1d" stroke-width="0.35">4</text>
<line x1="1086.0" y1="1366.0" x2="1086.0" y2="1376.0" stroke="#1d1d1d" stroke-width="3.4" />
<text x="1086.0" y="1402.5" font-size="24" text-anchor="middle" font-weight="bold" fill="#1d1d1d"  stroke="#1d1d1d" stroke-width="0.35">6</text>
<line x1="1119.6" y1="1366.0" x2="1119.6" y2="1376.0" stroke="#1d1d1d" stroke-width="3.4" />
<text x="1119.6" y="1402.5" font-size="24" text-anchor="middle" font-weight="bold" fill="#1d1d1d"  stroke="#1d1d1d" stroke-width="0.35">7/8</text>
<text x="630.0" y="1441.0" font-size="24.5" text-anchor="middle" font-weight="bold" fill="#1d1d1d"  stroke="#1d1d1d" stroke-width="0.35">Days Post Infection</text>
<line x1="119.8" y1="1301.8" x2="1152.0" y2="1301.8" stroke="#2a2a2a" stroke-width="2.4" stroke-dasharray="7 5.2"/>
<rect x="130.4" y="1035.5" width="19.2" height="53.5" fill="#ffffff" stroke="#1e1e1e" stroke-width="3.0" />
<line x1="130.4" y1="1050.0" x2="149.6" y2="1050.0" stroke="#1e1e1e" stroke-width="2.6" />
<circle cx="134.0" cy="1038.0" r="6.3" fill="#9aa1a5" stroke="#262626" stroke-width="1.8" />
<circle cx="144.3" cy="1035.0" r="6.3" fill="#9aa1a5" stroke="#262626" stroke-width="1.8" />
<circle cx="143.7" cy="1081.0" r="6.3" fill="#9aa1a5" stroke="#262626" stroke-width="1.8" />
<circle cx="134.5" cy="1088.0" r="6.3" fill="#9aa1a5" stroke="#262626" stroke-width="1.8" />
<rect x="175.0" y="1058.0" width="7.5" height="13.0" fill="#fff" stroke="#1e1e1e" stroke-width="3.0" />
<circle cx="168.7" cy="1053.5" r="6.3" fill="#9aa1a5" stroke="#262626" stroke-width="1.8" />
<circle cx="168.7" cy="1068.3" r="6.3" fill="#9aa1a5" stroke="#262626" stroke-width="1.8" />
<circle cx="178.4" cy="1064.6" r="6.3" fill="#9aa1a5" stroke="#262626" stroke-width="1.8" />
<line x1="206.1" y1="1081.5" x2="206.1" y2="1072.0" stroke="#1e1e1e" stroke-width="3" />
<line x1="206.1" y1="1173.5" x2="206.1" y2="1301.8" stroke="#1e1e1e" stroke-width="3" />
<rect x="196.5" y="1081.5" width="19.2" height="92.0" fill="#ffffff" stroke="#1e1e1e" stroke-width="3.0" />
<line x1="196.5" y1="1140.5" x2="215.7" y2="1140.5" stroke="#1e1e1e" stroke-width="2.6" />
<circle cx="206.1" cy="1072.0" r="6.3" fill="#9aa1a5" stroke="#262626" stroke-width="1.8" />
<line x1="200.6" y1="1072.0" x2="211.6" y2="1072.0" stroke="#222" stroke-width="2.2" opacity="0.75"/>
<circle cx="202.0" cy="1140.5" r="6.3" fill="#9aa1a5" stroke="#262626" stroke-width="1.8" />
<circle cx="210.7" cy="1141.0" r="6.3" fill="#9aa1a5" stroke="#262626" stroke-width="1.8" />
<circle cx="206.1" cy="1301.8" r="6.3" fill="#9aa1a5" stroke="#262626" stroke-width="1.8" />
<line x1="200.6" y1="1301.8" x2="211.6" y2="1301.8" stroke="#222" stroke-width="2.2" opacity="0.75"/>
<line x1="240.0" y1="1108.5" x2="240.0" y2="1099.0" stroke="#1e1e1e" stroke-width="3" />
<rect x="230.4" y="1108.5" width="19.2" height="197.5" fill="#ffffff" stroke="#1e1e1e" stroke-width="3.0" />
<circle cx="240.0" cy="1099.0" r="6.3" fill="#9aa1a5" stroke="#262626" stroke-width="1.8" />
<line x1="234.5" y1="1099.0" x2="245.5" y2="1099.0" stroke="#222" stroke-width="2.2" opacity="0.75"/>
<rect x="230.9" y="1295.3" width="18.2" height="13.0" rx="6.5" fill="#6f7579" stroke="#161616" stroke-width="1.8"/>
<circle cx="243.0" cy="1301.8" r="4.1" fill="#a7adb0" stroke="none" stroke-width="0" opacity="0.85"/>
<path d="M238.4,1298.2 a5.2,5.2 0 0 1 0,7.2 M243.0,1298.2 a5.2,5.2 0 0 1 0,7.2" fill="none" stroke="#a7adb0" stroke-width="1" opacity="0.55"/>
<line x1="273.6" y1="1079.5" x2="273.6" y2="1073.0" stroke="#1e1e1e" stroke-width="3" />
<rect x="264.0" y="1079.5" width="19.2" height="48.5" fill="#ffffff" stroke="#1e1e1e" stroke-width="3.0" />
<line x1="264.0" y1="1110.5" x2="283.2" y2="1110.5" stroke="#1e1e1e" stroke-width="2.6" />
<circle cx="273.6" cy="1073.0" r="6.3" fill="#9aa1a5" stroke="#262626" stroke-width="1.8" />
<line x1="268.1" y1="1073.0" x2="279.1" y2="1073.0" stroke="#222" stroke-width="2.2" opacity="0.75"/>
<circle cx="273.6" cy="1100.5" r="6.3" fill="#d2d5d7" stroke="#262626" stroke-width="1.8" />
<circle cx="268.0" cy="1126.4" r="6.3" fill="#9aa1a5" stroke="#262626" stroke-width="1.8" />
<circle cx="278.3" cy="1122.0" r="6.3" fill="#9aa1a5" stroke="#262626" stroke-width="1.8" />
<rect x="340.0" y="1295.2" width="21.2" height="13.2" rx="6.6" fill="#1f3f9c" stroke="#161616" stroke-width="1.8"/>
<circle cx="353.6" cy="1301.8" r="4.199999999999999" fill="#3b7be8" stroke="none" stroke-width="0" opacity="0.85"/>
<path d="M347.7,1298.2 a5.3,5.3 0 0 1 0,7.3 M352.3,1298.2 a5.3,5.3 0 0 1 0,7.3" fill="none" stroke="#3b7be8" stroke-width="1" opacity="0.55"/>
<rect x="551.6" y="1295.2" width="21.2" height="13.2" rx="6.6" fill="#3c176d" stroke="#161616" stroke-width="1.8"/>
<circle cx="565.2" cy="1301.8" r="4.199999999999999" fill="#6a30c2" stroke="none" stroke-width="0" opacity="0.85"/>
<path d="M559.3,1298.2 a5.3,5.3 0 0 1 0,7.3 M563.9,1298.2 a5.3,5.3 0 0 1 0,7.3" fill="none" stroke="#6a30c2" stroke-width="1" opacity="0.55"/>
<rect x="373.6" y="1295.2" width="21.2" height="13.2" rx="6.6" fill="#1f3f9c" stroke="#161616" stroke-width="1.8"/>
<circle cx="387.2" cy="1301.8" r="4.199999999999999" fill="#3b7be8" stroke="none" stroke-width="0" opacity="0.85"/>
<path d="M381.2,1298.2 a5.3,5.3 0 0 1 0,7.3 M385.9,1298.2 a5.3,5.3 0 0 1 0,7.3" fill="none" stroke="#3b7be8" stroke-width="1" opacity="0.55"/>
<rect x="585.1" y="1295.2" width="21.2" height="13.2" rx="6.6" fill="#3c176d" stroke="#161616" stroke-width="1.8"/>
<circle cx="598.8" cy="1301.8" r="4.199999999999999" fill="#6a30c2" stroke="none" stroke-width="0" opacity="0.85"/>
<path d="M592.8,1298.2 a5.3,5.3 0 0 1 0,7.3 M597.5,1298.2 a5.3,5.3 0 0 1 0,7.3" fill="none" stroke="#6a30c2" stroke-width="1" opacity="0.55"/>
<rect x="407.1" y="1295.2" width="21.2" height="13.2" rx="6.6" fill="#1f3f9c" stroke="#161616" stroke-width="1.8"/>
<circle cx="420.7" cy="1301.8" r="4.199999999999999" fill="#3b7be8" stroke="none" stroke-width="0" opacity="0.85"/>
<path d="M414.8,1298.2 a5.3,5.3 0 0 1 0,7.3 M419.4,1298.2 a5.3,5.3 0 0 1 0,7.3" fill="none" stroke="#3b7be8" stroke-width="1" opacity="0.55"/>
<rect x="618.7" y="1295.2" width="21.2" height="13.2" rx="6.6" fill="#3c176d" stroke="#161616" stroke-width="1.8"/>
<circle cx="632.3" cy="1301.8" r="4.199999999999999" fill="#6a30c2" stroke="none" stroke-width="0" opacity="0.85"/>
<path d="M626.4,1298.2 a5.3,5.3 0 0 1 0,7.3 M631.0,1298.2 a5.3,5.3 0 0 1 0,7.3" fill="none" stroke="#6a30c2" stroke-width="1" opacity="0.55"/>
<rect x="440.6" y="1295.2" width="21.2" height="13.2" rx="6.6" fill="#1f3f9c" stroke="#161616" stroke-width="1.8"/>
<circle cx="454.2" cy="1301.8" r="4.199999999999999" fill="#3b7be8" stroke="none" stroke-width="0" opacity="0.85"/>
<path d="M448.3,1298.2 a5.3,5.3 0 0 1 0,7.3 M452.9,1298.2 a5.3,5.3 0 0 1 0,7.3" fill="none" stroke="#3b7be8" stroke-width="1" opacity="0.55"/>
<rect x="652.2" y="1295.2" width="21.2" height="13.2" rx="6.6" fill="#3c176d" stroke="#161616" stroke-width="1.8"/>
<circle cx="665.9" cy="1301.8" r="4.199999999999999" fill="#6a30c2" stroke="none" stroke-width="0" opacity="0.85"/>
<path d="M659.9,1298.2 a5.3,5.3 0 0 1 0,7.3 M664.6,1298.2 a5.3,5.3 0 0 1 0,7.3" fill="none" stroke="#6a30c2" stroke-width="1" opacity="0.55"/>
<rect x="474.2" y="1295.2" width="21.2" height="13.2" rx="6.6" fill="#1f3f9c" stroke="#161616" stroke-width="1.8"/>
<circle cx="487.8" cy="1301.8" r="4.199999999999999" fill="#3b7be8" stroke="none" stroke-width="0" opacity="0.85"/>
<path d="M481.9,1298.2 a5.3,5.3 0 0 1 0,7.3 M486.5,1298.2 a5.3,5.3 0 0 1 0,7.3" fill="none" stroke="#3b7be8" stroke-width="1" opacity="0.55"/>
<rect x="685.8" y="1295.2" width="21.2" height="13.2" rx="6.6" fill="#3c176d" stroke="#161616" stroke-width="1.8"/>
<circle cx="699.4" cy="1301.8" r="4.199999999999999" fill="#6a30c2" stroke="none" stroke-width="0" opacity="0.85"/>
<path d="M693.5,1298.2 a5.3,5.3 0 0 1 0,7.3 M698.1,1298.2 a5.3,5.3 0 0 1 0,7.3" fill="none" stroke="#6a30c2" stroke-width="1" opacity="0.55"/>
<text x="350.0" y="1272.1" font-size="28.3" text-anchor="middle" font-weight="normal" fill="#111" stroke="#111" stroke-width="0.5">****</text>
<text x="384.0" y="1254.6" font-size="28.3" text-anchor="middle" font-weight="normal" fill="#111" stroke="#111" stroke-width="0.5">****</text>
<text x="418.0" y="1271.1" font-size="28.3" text-anchor="middle" font-weight="normal" fill="#111" stroke="#111" stroke-width="0.5">*</text>
<text x="447.5" y="1280.0" font-size="23" text-anchor="middle" font-weight="normal" fill="#151515" stroke="#151515" stroke-width="0.25">ns</text>
<text x="490.0" y="1289.6" font-size="28.3" text-anchor="middle" font-weight="normal" fill="#111" stroke="#111" stroke-width="0.5">****</text>
<text x="559.0" y="1273.6" font-size="28.3" text-anchor="middle" font-weight="normal" fill="#111" stroke="#111" stroke-width="0.5">****</text>
<text x="596.0" y="1251.1" font-size="28.3" text-anchor="middle" font-weight="normal" fill="#111" stroke="#111" stroke-width="0.5">****</text>
<text x="629.0" y="1271.1" font-size="28.3" text-anchor="middle" font-weight="normal" fill="#111" stroke="#111" stroke-width="0.5">**</text>
<text x="661.5" y="1276.0" font-size="23" text-anchor="middle" font-weight="normal" fill="#151515" stroke="#151515" stroke-width="0.25">ns</text>
<text x="704.0" y="1282.1" font-size="28.3" text-anchor="middle" font-weight="normal" fill="#111" stroke="#111" stroke-width="0.5">****</text>
<line x1="775.0" y1="1006.0" x2="775.0" y2="988.0" stroke="#1e1e1e" stroke-width="3" />
<line x1="775.0" y1="1178.0" x2="775.0" y2="1301.8" stroke="#1e1e1e" stroke-width="3" />
<rect x="765.4" y="1006.0" width="19.2" height="172.0" fill="#ffffff" stroke="#1e1e1e" stroke-width="3.0" />
<line x1="765.4" y1="1126.6" x2="784.6" y2="1126.6" stroke="#1e1e1e" stroke-width="2.6" />
<circle cx="775.0" cy="988.0" r="6.3" fill="#46bd2d" stroke="#262626" stroke-width="1.8" />
<line x1="769.5" y1="988.0" x2="780.5" y2="988.0" stroke="#222" stroke-width="2.2" opacity="0.75"/>
<circle cx="775.0" cy="1098.2" r="6.3" fill="#7fe45c" stroke="#262626" stroke-width="1.8" />
<circle cx="775.0" cy="1126.6" r="6.3" fill="#7fe45c" stroke="#262626" stroke-width="1.8" />
<circle cx="775.0" cy="1161.7" r="6.3" fill="#7fe45c" stroke="#262626" stroke-width="1.8" />
<circle cx="775.0" cy="1301.8" r="6.3" fill="#46bd2d" stroke="#262626" stroke-width="1.8" />
<line x1="769.5" y1="1301.8" x2="780.5" y2="1301.8" stroke="#222" stroke-width="2.2" opacity="0.75"/>
<text x="771.5" y="979.7" font-size="23" text-anchor="middle" font-weight="normal" fill="#151515" stroke="#151515" stroke-width="0.25">ns</text>
<line x1="808.3" y1="1209.5" x2="808.3" y2="1190.7" stroke="#1e1e1e" stroke-width="3" />
<rect x="798.7" y="1209.5" width="19.2" height="96.0" fill="#ffffff" stroke="#1e1e1e" stroke-width="3.0" />
<circle cx="808.3" cy="1190.7" r="6.3" fill="#46bd2d" stroke="#262626" stroke-width="1.8" />
<line x1="802.8" y1="1190.7" x2="813.8" y2="1190.7" stroke="#222" stroke-width="2.2" opacity="0.75"/>
<circle cx="801.8" cy="1301.8" r="6.3" fill="#46bd2d" stroke="#262626" stroke-width="1.8" />
<circle cx="812.3" cy="1301.8" r="6.3" fill="#46bd2d" stroke="#262626" stroke-width="1.8" />
<circle cx="808.3" cy="1301.8" r="6.3" fill="#46bd2d" stroke="#262626" stroke-width="1.8" />
<text x="806.0" y="1186.6" font-size="28.3" text-anchor="middle" font-weight="normal" fill="#111" stroke="#111" stroke-width="0.5">****</text>
<line x1="841.8" y1="1026.0" x2="841.8" y2="1007.6" stroke="#1e1e1e" stroke-width="3" />
<rect x="832.2" y="1026.0" width="19.2" height="279.5" fill="#ffffff" stroke="#1e1e1e" stroke-width="3.0" />
<circle cx="841.8" cy="1007.6" r="6.3" fill="#46bd2d" stroke="#262626" stroke-width="1.8" />
<line x1="836.3" y1="1007.6" x2="847.3" y2="1007.6" stroke="#222" stroke-width="2.2" opacity="0.75"/>
<circle cx="841.8" cy="1119.3" r="6.3" fill="#7fe45c" stroke="#262626" stroke-width="1.8" />
<circle cx="836.3" cy="1301.8" r="6.3" fill="#46bd2d" stroke="#262626" stroke-width="1.8" />
<circle cx="847.3" cy="1301.8" r="6.3" fill="#46bd2d" stroke="#262626" stroke-width="1.8" />
<line x1="830.2" y1="1148.3" x2="853.4" y2="1148.3" stroke="#1e1e1e" stroke-width="2.4" />
<circle cx="841.8" cy="1148.3" r="6.3" fill="#7fe45c" stroke="#262626" stroke-width="1.8" />
<line x1="836.3" y1="1148.3" x2="847.3" y2="1148.3" stroke="#222" stroke-width="2.2" opacity="0.75"/>
<text x="838.0" y="998.3" font-size="23" text-anchor="middle" font-weight="normal" fill="#151515" stroke="#151515" stroke-width="0.25">ns</text>
<line x1="875.0" y1="1161.0" x2="875.0" y2="1152.4" stroke="#1e1e1e" stroke-width="3" />
<rect x="865.4" y="1161.0" width="19.2" height="144.5" fill="#ffffff" stroke="#1e1e1e" stroke-width="3.0" />
<circle cx="875.0" cy="1152.4" r="6.3" fill="#46bd2d" stroke="#262626" stroke-width="1.8" />
<line x1="869.5" y1="1152.4" x2="880.5" y2="1152.4" stroke="#222" stroke-width="2.2" opacity="0.75"/>
<circle cx="875.0" cy="1170.0" r="6.3" fill="#7fe45c" stroke="#262626" stroke-width="1.8" />
<circle cx="869.0" cy="1301.8" r="6.3" fill="#46bd2d" stroke="#262626" stroke-width="1.8" />
<circle cx="881.0" cy="1301.8" r="6.3" fill="#46bd2d" stroke="#262626" stroke-width="1.8" />
<circle cx="875.0" cy="1301.8" r="6.3" fill="#46bd2d" stroke="#262626" stroke-width="1.8" />
<text x="871.4" y="1140.0" font-size="23" text-anchor="middle" font-weight="normal" fill="#151515" stroke="#151515" stroke-width="0.25">ns</text>
<rect x="899.3" y="1132.0" width="19.2" height="173.5" fill="#ffffff" stroke="#1e1e1e" stroke-width="3.0" />
<circle cx="906.6" cy="1129.7" r="6.3" fill="#46bd2d" stroke="#262626" stroke-width="1.8" />
<circle cx="911.7" cy="1132.8" r="6.3" fill="#46bd2d" stroke="#262626" stroke-width="1.8" />
<circle cx="902.9" cy="1301.8" r="6.3" fill="#46bd2d" stroke="#262626" stroke-width="1.8" />
<circle cx="914.9" cy="1301.8" r="6.3" fill="#46bd2d" stroke="#262626" stroke-width="1.8" />
<circle cx="908.9" cy="1301.8" r="6.3" fill="#46bd2d" stroke="#262626" stroke-width="1.8" />
<text x="903.5" y="1124.0" font-size="28.3" text-anchor="middle" font-weight="normal" fill="#111" stroke="#111" stroke-width="0.5">*</text>
<line x1="986.6" y1="1083.3" x2="986.6" y2="1066.0" stroke="#1e1e1e" stroke-width="3" />
<rect x="977.0" y="1083.3" width="19.2" height="222.2" fill="#ffffff" stroke="#1e1e1e" stroke-width="3.0" />
<circle cx="986.6" cy="1066.0" r="6.3" fill="#8c5a26" stroke="#262626" stroke-width="1.8" />
<line x1="981.1" y1="1066.0" x2="992.1" y2="1066.0" stroke="#222" stroke-width="2.2" opacity="0.75"/>
<circle cx="986.6" cy="1134.8" r="6.3" fill="#dcb68d" stroke="#262626" stroke-width="1.8" />
<rect x="977.0" y="1295.3" width="19.2" height="13.0" rx="6.5" fill="#5e3b17" stroke="#161616" stroke-width="1.8"/>
<circle cx="989.6" cy="1301.8" r="4.1" fill="#a06a2c" stroke="none" stroke-width="0" opacity="0.85"/>
<path d="M984.6,1298.2 a5.2,5.2 0 0 1 0,7.2 M989.1,1298.2 a5.2,5.2 0 0 1 0,7.2" fill="none" stroke="#a06a2c" stroke-width="1" opacity="0.55"/>
<text x="983.1" y="1062.6" font-size="28.3" text-anchor="middle" font-weight="normal" fill="#111" stroke="#111" stroke-width="0.5">*</text>
<line x1="1019.7" y1="1123.5" x2="1019.7" y2="1113.0" stroke="#1e1e1e" stroke-width="3" />
<rect x="1010.1" y="1123.5" width="19.2" height="182.0" fill="#ffffff" stroke="#1e1e1e" stroke-width="3.0" />
<circle cx="1019.7" cy="1113.0" r="6.3" fill="#8c5a26" stroke="#262626" stroke-width="1.8" />
<line x1="1014.2" y1="1113.0" x2="1025.2" y2="1113.0" stroke="#222" stroke-width="2.2" opacity="0.75"/>
<circle cx="1019.7" cy="1134.8" r="6.3" fill="#dcb68d" stroke="#262626" stroke-width="1.8" />
<circle cx="1014.2" cy="1301.8" r="6.3" fill="#dcb68d" stroke="#262626" stroke-width="1.8" />
<circle cx="1025.2" cy="1301.8" r="6.3" fill="#dcb68d" stroke="#262626" stroke-width="1.8" />
<line x1="1008.1" y1="1170.6" x2="1031.3" y2="1170.6" stroke="#1e1e1e" stroke-width="2.4" />
<circle cx="1019.7" cy="1170.6" r="6.3" fill="#dcb68d" stroke="#262626" stroke-width="1.8" />
<line x1="1014.2" y1="1170.6" x2="1025.2" y2="1170.6" stroke="#222" stroke-width="2.2" opacity="0.75"/>
<text x="1014.2" y="1106.0" font-size="28.3" text-anchor="middle" font-weight="normal" fill="#111" stroke="#111" stroke-width="0.5">*</text>
<line x1="1053.3" y1="1054.3" x2="1053.3" y2="1036.1" stroke="#1e1e1e" stroke-width="3" />
<rect x="1043.7" y="1054.3" width="19.2" height="251.2" fill="#ffffff" stroke="#1e1e1e" stroke-width="3.0" />
<circle cx="1053.3" cy="1036.1" r="6.3" fill="#8c5a26" stroke="#262626" stroke-width="1.8" />
<line x1="1047.8" y1="1036.1" x2="1058.8" y2="1036.1" stroke="#222" stroke-width="2.2" opacity="0.75"/>
<rect x="1043.7" y="1295.3" width="19.2" height="13.0" rx="6.5" fill="#5e3b17" stroke="#161616" stroke-width="1.8"/>
<circle cx="1056.3" cy="1301.8" r="4.1" fill="#a06a2c" stroke="none" stroke-width="0" opacity="0.85"/>
<path d="M1051.2,1298.2 a5.2,5.2 0 0 1 0,7.2 M1055.8,1298.2 a5.2,5.2 0 0 1 0,7.2" fill="none" stroke="#a06a2c" stroke-width="1" opacity="0.55"/>
<text x="1047.7" y="1028.3" font-size="23" text-anchor="middle" font-weight="normal" fill="#151515" stroke="#151515" stroke-width="0.25">ns</text>
<line x1="1087.0" y1="1119.0" x2="1087.0" y2="1100.7" stroke="#1e1e1e" stroke-width="3" />
<rect x="1077.4" y="1119.0" width="19.2" height="186.5" fill="#ffffff" stroke="#1e1e1e" stroke-width="3.0" />
<circle cx="1087.0" cy="1100.7" r="6.3" fill="#8c5a26" stroke="#262626" stroke-width="1.8" />
<line x1="1081.5" y1="1100.7" x2="1092.5" y2="1100.7" stroke="#222" stroke-width="2.2" opacity="0.75"/>
<rect x="1077.4" y="1295.3" width="19.2" height="13.0" rx="6.5" fill="#5e3b17" stroke="#161616" stroke-width="1.8"/>
<circle cx="1090.0" cy="1301.8" r="4.1" fill="#a06a2c" stroke="none" stroke-width="0" opacity="0.85"/>
<path d="M1085.0,1298.2 a5.2,5.2 0 0 1 0,7.2 M1089.5,1298.2 a5.2,5.2 0 0 1 0,7.2" fill="none" stroke="#a06a2c" stroke-width="1" opacity="0.55"/>
<text x="1083.0" y="1091.8" font-size="23" text-anchor="middle" font-weight="normal" fill="#151515" stroke="#151515" stroke-width="0.25">ns</text>
<rect x="1110.0" y="1295.2" width="20.2" height="13.2" rx="6.6" fill="#5e3b17" stroke="#161616" stroke-width="1.8"/>
<circle cx="1123.1" cy="1301.8" r="4.199999999999999" fill="#a06a2c" stroke="none" stroke-width="0" opacity="0.85"/>
<path d="M1117.7,1298.2 a5.3,5.3 0 0 1 0,7.3 M1122.3,1298.2 a5.3,5.3 0 0 1 0,7.3" fill="none" stroke="#a06a2c" stroke-width="1" opacity="0.55"/>
<text x="1120.7" y="1289.1" font-size="28.3" text-anchor="middle" font-weight="normal" fill="#111" stroke="#111" stroke-width="0.5">****</text>
<rect x="1582.0" y="913.5" width="198.0" height="465.5" fill="#f0f2f1" stroke="none" stroke-width="0" />
<rect x="1780.0" y="913.5" width="198.0" height="465.5" fill="#e2e8e7" stroke="none" stroke-width="0" />
<rect x="1978.0" y="913.5" width="198.0" height="465.5" fill="#d4dddb" stroke="none" stroke-width="0" />
<rect x="2176.0" y="913.5" width="183.0" height="465.5" fill="#c1cccb" stroke="none" stroke-width="0" />
<line x1="1582.0" y1="907.0" x2="1582.0" y2="1379.0" stroke="#555" stroke-width="1.6" stroke-dasharray="2 2.2"/>
<line x1="1780.0" y1="907.0" x2="1780.0" y2="1379.0" stroke="#555" stroke-width="1.6" stroke-dasharray="2 2.2"/>
<line x1="1978.0" y1="907.0" x2="1978.0" y2="1379.0" stroke="#555" stroke-width="1.6" stroke-dasharray="2 2.2"/>
<line x1="2176.3" y1="907.0" x2="2176.3" y2="1379.0" stroke="#555" stroke-width="1.6" stroke-dasharray="2 2.2"/>
<g transform="translate(1306.1,804.1)"><path fill-rule="evenodd" d="M0,0 H13 C26,0 33,7.5 33,19.3 C33,31 26,38.7 13,38.7 H0 Z M9.5,9 H13.2 C19.8,9 23.3,12.8 23.3,19.3 C23.3,26.2 19.8,30.5 13.2,30.5 H9.5 Z" fill="#060606"/></g>
<text x="1867.0" y="815.0" font-size="25.25" text-anchor="middle" font-weight="bold" fill="#1d1d1d"  stroke="#1d1d1d" stroke-width="0.35">Bronhoalveolar Lavage Subgenomic RNA</text>
<circle cx="1376.0" cy="871.0" r="8.3" fill="#a3b0b6" stroke="#23282b" stroke-width="2.3" />
<text x="1396.0" y="866.5" font-size="19.6" text-anchor="start" font-weight="bold" fill="#222"  stroke="#222" stroke-width="0.35">Placebo</text>
<text x="1396.0" y="889.0" font-size="19.6" text-anchor="start" font-weight="bold" fill="#222"  stroke="#222" stroke-width="0.35">(n = 4)</text>
<circle cx="1496.0" cy="871.0" r="8.3" fill="#62a5f0" stroke="#23282b" stroke-width="2.3" />
<text x="1514.5" y="866.5" font-size="19.6" text-anchor="start" font-weight="bold" fill="#222"  stroke="#222" stroke-width="0.35">5 µg NVX-CoV2373</text>
<text x="1514.5" y="889.0" font-size="19.6" text-anchor="start" font-weight="bold" fill="#222"  stroke="#222" stroke-width="0.35">(2 doses, n = 5)</text>
<circle cx="1715.0" cy="871.5" r="8.3" fill="#7038dc" stroke="#23282b" stroke-width="2.3" />
<text x="1736.0" y="866.5" font-size="19.6" text-anchor="start" font-weight="bold" fill="#222"  stroke="#222" stroke-width="0.35">25 µg NVX-CoV2373</text>
<text x="1736.0" y="889.0" font-size="19.6" text-anchor="start" font-weight="bold" fill="#222"  stroke="#222" stroke-width="0.35">(2 doses, n = 5)</text>
<circle cx="1945.0" cy="871.5" r="8.3" fill="#4fdc2c" stroke="#23282b" stroke-width="2.3" />
<text x="1964.5" y="866.5" font-size="19.6" text-anchor="start" font-weight="bold" fill="#222"  stroke="#222" stroke-width="0.35">5 µg NVX-CoV2373</text>
<text x="1964.5" y="889.0" font-size="19.6" text-anchor="start" font-weight="bold" fill="#222"  stroke="#222" stroke-width="0.35">(1 dose, n = 5)</text>
<circle cx="2161.0" cy="871.5" r="8.3" fill="#9a6426" stroke="#23282b" stroke-width="2.3" />
<text x="2182.0" y="866.5" font-size="19.6" text-anchor="start" font-weight="bold" fill="#222"  stroke="#222" stroke-width="0.35">25 µg NVX-CoV2373</text>
<text x="2182.0" y="889.0" font-size="19.6" text-anchor="start" font-weight="bold" fill="#222"  stroke="#222" stroke-width="0.35">(1 dose, n = 5)</text>
<line x1="1406.5" y1="905.3" x2="1406.5" y2="1380.7" stroke="#1d1d1d" stroke-width="3.4" />
<line x1="1395.8" y1="1379.0" x2="1406.5" y2="1379.0" stroke="#1d1d1d" stroke-width="3.4" />
<text x="1393.7" y="1387.8" font-size="24.5" text-anchor="end" font-weight="bold" fill="#1d1d1d"  stroke="#1d1d1d" stroke-width="0.35">0</text>
<line x1="1395.8" y1="1311.6" x2="1406.5" y2="1311.6" stroke="#1d1d1d" stroke-width="3.4" />
<text x="1393.7" y="1320.4" font-size="24.5" text-anchor="end" font-weight="bold" fill="#1d1d1d"  stroke="#1d1d1d" stroke-width="0.35">1</text>
<line x1="1395.8" y1="1244.1" x2="1406.5" y2="1244.1" stroke="#1d1d1d" stroke-width="3.4" />
<text x="1393.7" y="1253.0" font-size="24.5" text-anchor="end" font-weight="bold" fill="#1d1d1d"  stroke="#1d1d1d" stroke-width="0.35">2</text>
<line x1="1395.8" y1="1176.7" x2="1406.5" y2="1176.7" stroke="#1d1d1d" stroke-width="3.4" />
<text x="1393.7" y="1185.5" font-size="24.5" text-anchor="end" font-weight="bold" fill="#1d1d1d"  stroke="#1d1d1d" stroke-width="0.35">3</text>
<line x1="1395.8" y1="1109.3" x2="1406.5" y2="1109.3" stroke="#1d1d1d" stroke-width="3.4" />
<text x="1393.7" y="1118.1" font-size="24.5" text-anchor="end" font-weight="bold" fill="#1d1d1d"  stroke="#1d1d1d" stroke-width="0.35">4</text>
<line x1="1395.8" y1="1041.9" x2="1406.5" y2="1041.9" stroke="#1d1d1d" stroke-width="3.4" />
<text x="1393.7" y="1050.7" font-size="24.5" text-anchor="end" font-weight="bold" fill="#1d1d1d"  stroke="#1d1d1d" stroke-width="0.35">5</text>
<line x1="1395.8" y1="974.4" x2="1406.5" y2="974.4" stroke="#1d1d1d" stroke-width="3.4" />
<text x="1393.7" y="983.2" font-size="24.5" text-anchor="end" font-weight="bold" fill="#1d1d1d"  stroke="#1d1d1d" stroke-width="0.35">6</text>
<line x1="1395.8" y1="907.0" x2="1406.5" y2="907.0" stroke="#1d1d1d" stroke-width="3.4" />
<text x="1393.7" y="915.8" font-size="24.5" text-anchor="end" font-weight="bold" fill="#1d1d1d"  stroke="#1d1d1d" stroke-width="0.35">7</text>
<text transform="translate(1361.0,1139.0) rotate(-90)" font-size="25.2" text-anchor="middle" font-weight="bold" fill="#1d1d1d" stroke="#1d1d1d" stroke-width="0.35">sgRNA copies mL<tspan dy="-9.6" font-size="19.2">-1</tspan><tspan dy="9.6"> (log</tspan><tspan dy="4.3" font-size="19.2">10</tspan><tspan dy="-4.3">)</tspan></text>
<line x1="1404.8" y1="1379.0" x2="2353.0" y2="1379.0" stroke="#1d1d1d" stroke-width="3.4" />
<line x1="1436.8" y1="1379.0" x2="1436.8" y2="1389.5" stroke="#1d1d1d" stroke-width="3.4" />
<text x="1436.8" y="1416.5" font-size="24.5" text-anchor="middle" font-weight="bold" fill="#1d1d1d"  stroke="#1d1d1d" stroke-width="0.35">2</text>
<line x1="1482.8" y1="1379.0" x2="1482.8" y2="1389.5" stroke="#1d1d1d" stroke-width="3.4" />
<text x="1482.8" y="1416.5" font-size="24.5" text-anchor="middle" font-weight="bold" fill="#1d1d1d"  stroke="#1d1d1d" stroke-width="0.35">4</text>
<line x1="1528.8" y1="1379.0" x2="1528.8" y2="1389.5" stroke="#1d1d1d" stroke-width="3.4" />
<text x="1528.8" y="1416.5" font-size="24.5" text-anchor="middle" font-weight="bold" fill="#1d1d1d"  stroke="#1d1d1d" stroke-width="0.35">7/8</text>
<line x1="1635.0" y1="1379.0" x2="1635.0" y2="1389.5" stroke="#1d1d1d" stroke-width="3.4" />
<text x="1635.0" y="1416.5" font-size="24.5" text-anchor="middle" font-weight="bold" fill="#1d1d1d"  stroke="#1d1d1d" stroke-width="0.35">2</text>
<line x1="1681.0" y1="1379.0" x2="1681.0" y2="1389.5" stroke="#1d1d1d" stroke-width="3.4" />
<text x="1681.0" y="1416.5" font-size="24.5" text-anchor="middle" font-weight="bold" fill="#1d1d1d"  stroke="#1d1d1d" stroke-width="0.35">4</text>
<line x1="1727.0" y1="1379.0" x2="1727.0" y2="1389.5" stroke="#1d1d1d" stroke-width="3.4" />
<text x="1727.0" y="1416.5" font-size="24.5" text-anchor="middle" font-weight="bold" fill="#1d1d1d"  stroke="#1d1d1d" stroke-width="0.35">7/8</text>
<line x1="1833.3" y1="1379.0" x2="1833.3" y2="1389.5" stroke="#1d1d1d" stroke-width="3.4" />
<text x="1833.3" y="1416.5" font-size="24.5" text-anchor="middle" font-weight="bold" fill="#1d1d1d"  stroke="#1d1d1d" stroke-width="0.35">2</text>
<line x1="1879.3" y1="1379.0" x2="1879.3" y2="1389.5" stroke="#1d1d1d" stroke-width="3.4" />
<text x="1879.3" y="1416.5" font-size="24.5" text-anchor="middle" font-weight="bold" fill="#1d1d1d"  stroke="#1d1d1d" stroke-width="0.35">4</text>
<line x1="1925.3" y1="1379.0" x2="1925.3" y2="1389.5" stroke="#1d1d1d" stroke-width="3.4" />
<text x="1925.3" y="1416.5" font-size="24.5" text-anchor="middle" font-weight="bold" fill="#1d1d1d"  stroke="#1d1d1d" stroke-width="0.35">7/8</text>
<line x1="2031.5" y1="1379.0" x2="2031.5" y2="1389.5" stroke="#1d1d1d" stroke-width="3.4" />
<text x="2031.5" y="1416.5" font-size="24.5" text-anchor="middle" font-weight="bold" fill="#1d1d1d"  stroke="#1d1d1d" stroke-width="0.35">2</text>
<line x1="2077.6" y1="1379.0" x2="2077.6" y2="1389.5" stroke="#1d1d1d" stroke-width="3.4" />
<text x="2077.6" y="1416.5" font-size="24.5" text-anchor="middle" font-weight="bold" fill="#1d1d1d"  stroke="#1d1d1d" stroke-width="0.35">4</text>
<line x1="2123.6" y1="1379.0" x2="2123.6" y2="1389.5" stroke="#1d1d1d" stroke-width="3.4" />
<text x="2123.6" y="1416.5" font-size="24.5" text-anchor="middle" font-weight="bold" fill="#1d1d1d"  stroke="#1d1d1d" stroke-width="0.35">7/8</text>
<line x1="2229.8" y1="1379.0" x2="2229.8" y2="1389.5" stroke="#1d1d1d" stroke-width="3.4" />
<text x="2229.8" y="1416.5" font-size="24.5" text-anchor="middle" font-weight="bold" fill="#1d1d1d"  stroke="#1d1d1d" stroke-width="0.35">2</text>
<line x1="2275.8" y1="1379.0" x2="2275.8" y2="1389.5" stroke="#1d1d1d" stroke-width="3.4" />
<text x="2275.8" y="1416.5" font-size="24.5" text-anchor="middle" font-weight="bold" fill="#1d1d1d"  stroke="#1d1d1d" stroke-width="0.35">4</text>
<line x1="2321.8" y1="1379.0" x2="2321.8" y2="1389.5" stroke="#1d1d1d" stroke-width="3.4" />
<text x="2321.8" y="1416.5" font-size="24.5" text-anchor="middle" font-weight="bold" fill="#1d1d1d"  stroke="#1d1d1d" stroke-width="0.35">7/8</text>
<text x="1878.0" y="1456.0" font-size="25.0" text-anchor="middle" font-weight="bold" fill="#1d1d1d"  stroke="#1d1d1d" stroke-width="0.35">Days Post Infection</text>
<line x1="1408.5" y1="1301.8" x2="2347.0" y2="1301.8" stroke="#2a2a2a" stroke-width="2.6" stroke-dasharray="7 5.2"/>
<line x1="1436.8" y1="1032.0" x2="1436.8" y2="1025.2" stroke="#1e1e1e" stroke-width="3" />
<line x1="1436.8" y1="1094.0" x2="1436.8" y2="1168.8" stroke="#1e1e1e" stroke-width="3" />
<rect x="1423.5" y="1032.0" width="26.6" height="62.0" fill="#ffffff" stroke="#1e1e1e" stroke-width="3.2" />
<circle cx="1436.8" cy="1025.2" r="7.0" fill="#9aa1a5" stroke="#262626" stroke-width="1.8" />
<line x1="1431.3" y1="1025.2" x2="1442.3" y2="1025.2" stroke="#222" stroke-width="2.2" opacity="0.75"/>
<circle cx="1429.4" cy="1050.0" r="7.0" fill="#9aa1a5" stroke="#262626" stroke-width="1.8" />
<circle cx="1445.2" cy="1058.5" r="7.0" fill="#d2d5d7" stroke="#262626" stroke-width="1.8" />
<circle cx="1436.8" cy="1168.8" r="7.0" fill="#9aa1a5" stroke="#262626" stroke-width="1.8" />
<line x1="1431.3" y1="1168.8" x2="1442.3" y2="1168.8" stroke="#222" stroke-width="2.2" opacity="0.75"/>
<line x1="1482.8" y1="1080.3" x2="1482.8" y2="1070.0" stroke="#1e1e1e" stroke-width="3" />
<rect x="1469.2" y="1080.3" width="27.2" height="222.7" fill="#ffffff" stroke="#1e1e1e" stroke-width="3.2" />
<line x1="1469.2" y1="1158.3" x2="1496.4" y2="1158.3" stroke="#1e1e1e" stroke-width="2.6" />
<circle cx="1482.8" cy="1070.0" r="7.0" fill="#9aa1a5" stroke="#262626" stroke-width="1.8" />
<line x1="1477.3" y1="1070.0" x2="1488.3" y2="1070.0" stroke="#222" stroke-width="2.2" opacity="0.75"/>
<circle cx="1482.8" cy="1139.0" r="7.0" fill="#d2d5d7" stroke="#262626" stroke-width="1.8" />
<circle cx="1474.3" cy="1301.8" r="7.0" fill="#9aa1a5" stroke="#262626" stroke-width="1.8" />
<circle cx="1490.8" cy="1301.8" r="7.0" fill="#9aa1a5" stroke="#262626" stroke-width="1.8" />
<rect x="1515.0" y="1294.2" width="27.6" height="15.2" rx="7.6" fill="#6f7579" stroke="#161616" stroke-width="1.8"/>
<circle cx="1531.8" cy="1301.8" r="5.199999999999999" fill="#a7adb0" stroke="none" stroke-width="0" opacity="0.85"/>
<path d="M1524.0,1297.6 a6.1,6.1 0 0 1 0,8.4 M1529.3,1297.6 a6.1,6.1 0 0 1 0,8.4" fill="none" stroke="#a7adb0" stroke-width="1" opacity="0.55"/>
<rect x="1620.2" y="1294.2" width="29.6" height="15.2" rx="7.6" fill="#1f3f9c" stroke="#161616" stroke-width="1.8"/>
<circle cx="1638.0" cy="1301.8" r="5.199999999999999" fill="#3b7be8" stroke="none" stroke-width="0" opacity="0.85"/>
<path d="M1629.2,1297.6 a6.1,6.1 0 0 1 0,8.4 M1634.5,1297.6 a6.1,6.1 0 0 1 0,8.4" fill="none" stroke="#3b7be8" stroke-width="1" opacity="0.55"/>
<rect x="1818.5" y="1294.2" width="29.6" height="15.2" rx="7.6" fill="#3c176d" stroke="#161616" stroke-width="1.8"/>
<circle cx="1836.3" cy="1301.8" r="5.199999999999999" fill="#6a30c2" stroke="none" stroke-width="0" opacity="0.85"/>
<path d="M1827.5,1297.6 a6.1,6.1 0 0 1 0,8.4 M1832.8,1297.6 a6.1,6.1 0 0 1 0,8.4" fill="none" stroke="#6a30c2" stroke-width="1" opacity="0.55"/>
<rect x="1666.2" y="1294.2" width="29.6" height="15.2" rx="7.6" fill="#1f3f9c" stroke="#161616" stroke-width="1.8"/>
<circle cx="1684.0" cy="1301.8" r="5.199999999999999" fill="#3b7be8" stroke="none" stroke-width="0" opacity="0.85"/>
<path d="M1675.2,1297.6 a6.1,6.1 0 0 1 0,8.4 M1680.5,1297.6 a6.1,6.1 0 0 1 0,8.4" fill="none" stroke="#3b7be8" stroke-width="1" opacity="0.55"/>
<rect x="1864.5" y="1294.2" width="29.6" height="15.2" rx="7.6" fill="#3c176d" stroke="#161616" stroke-width="1.8"/>
<circle cx="1882.3" cy="1301.8" r="5.199999999999999" fill="#6a30c2" stroke="none" stroke-width="0" opacity="0.85"/>
<path d="M1873.5,1297.6 a6.1,6.1 0 0 1 0,8.4 M1878.8,1297.6 a6.1,6.1 0 0 1 0,8.4" fill="none" stroke="#6a30c2" stroke-width="1" opacity="0.55"/>
<rect x="1712.2" y="1294.2" width="29.6" height="15.2" rx="7.6" fill="#1f3f9c" stroke="#161616" stroke-width="1.8"/>
<circle cx="1730.0" cy="1301.8" r="5.199999999999999" fill="#3b7be8" stroke="none" stroke-width="0" opacity="0.85"/>
<path d="M1721.2,1297.6 a6.1,6.1 0 0 1 0,8.4 M1726.5,1297.6 a6.1,6.1 0 0 1 0,8.4" fill="none" stroke="#3b7be8" stroke-width="1" opacity="0.55"/>
<rect x="1910.5" y="1294.2" width="29.6" height="15.2" rx="7.6" fill="#3c176d" stroke="#161616" stroke-width="1.8"/>
<circle cx="1928.3" cy="1301.8" r="5.199999999999999" fill="#6a30c2" stroke="none" stroke-width="0" opacity="0.85"/>
<path d="M1919.5,1297.6 a6.1,6.1 0 0 1 0,8.4 M1924.8,1297.6 a6.1,6.1 0 0 1 0,8.4" fill="none" stroke="#6a30c2" stroke-width="1" opacity="0.55"/>
<text x="1634.8" y="1291.7" font-size="28" text-anchor="middle" font-weight="normal" fill="#111" stroke="#111" stroke-width="0.5">****</text>
<text x="1681.0" y="1284.8" font-size="23" text-anchor="middle" font-weight="normal" fill="#151515" stroke="#151515" stroke-width="0.55">ns</text>
<text x="1728.0" y="1284.8" font-size="23" text-anchor="middle" font-weight="normal" fill="#151515" stroke="#151515" stroke-width="0.55">ns</text>
<text x="1835.5" y="1291.7" font-size="28" text-anchor="middle" font-weight="normal" fill="#111" stroke="#111" stroke-width="0.5">****</text>
<text x="1882.0" y="1284.8" font-size="23" text-anchor="middle" font-weight="normal" fill="#151515" stroke="#151515" stroke-width="0.55">ns</text>
<text x="1929.0" y="1284.8" font-size="23" text-anchor="middle" font-weight="normal" fill="#151515" stroke="#151515" stroke-width="0.55">ns</text>
<line x1="2031.5" y1="1078.0" x2="2031.5" y2="1061.0" stroke="#1e1e1e" stroke-width="3" />
<rect x="2018.2" y="1078.0" width="26.6" height="224.5" fill="#ffffff" stroke="#1e1e1e" stroke-width="3.2" />
<line x1="2018.2" y1="1137.1" x2="2044.8" y2="1137.1" stroke="#1e1e1e" stroke-width="2.6" />
<circle cx="2031.5" cy="1061.0" r="7.0" fill="#46bd2d" stroke="#262626" stroke-width="1.8" />
<line x1="2026.0" y1="1061.0" x2="2037.0" y2="1061.0" stroke="#222" stroke-width="2.2" opacity="0.75"/>
<circle cx="2031.5" cy="1106.6" r="7.0" fill="#7fe45c" stroke="#262626" stroke-width="1.8" />
<circle cx="2031.5" cy="1137.1" r="7.0" fill="#7fe45c" stroke="#262626" stroke-width="1.8" />
<circle cx="2023.6" cy="1301.8" r="7.0" fill="#46bd2d" stroke="#262626" stroke-width="1.8" />
<circle cx="2039.1" cy="1301.8" r="7.0" fill="#46bd2d" stroke="#262626" stroke-width="1.8" />
<text x="2031.3" y="1046.7" font-size="23" text-anchor="middle" font-weight="normal" fill="#151515" stroke="#151515" stroke-width="0.55">ns</text>
<line x1="2077.6" y1="1128.3" x2="2077.6" y2="1106.0" stroke="#1e1e1e" stroke-width="3" />
<rect x="2064.2" y="1128.3" width="26.6" height="174.2" fill="#ffffff" stroke="#1e1e1e" stroke-width="3.2" />
<circle cx="2077.6" cy="1106.0" r="7.0" fill="#46bd2d" stroke="#262626" stroke-width="1.8" />
<line x1="2072.1" y1="1106.0" x2="2083.1" y2="1106.0" stroke="#222" stroke-width="2.2" opacity="0.75"/>
<circle cx="2068.6" cy="1301.8" r="7.0" fill="#46bd2d" stroke="#262626" stroke-width="1.8" />
<circle cx="2086.6" cy="1301.8" r="7.0" fill="#46bd2d" stroke="#262626" stroke-width="1.8" />
<circle cx="2077.6" cy="1301.8" r="7.0" fill="#46bd2d" stroke="#262626" stroke-width="1.8" />
<text x="2077.5" y="1090.1" font-size="23" text-anchor="middle" font-weight="normal" fill="#151515" stroke="#151515" stroke-width="0.55">ns</text>
<rect x="2109.8" y="1294.2" width="27.6" height="15.2" rx="7.6" fill="#2f8a22" stroke="#161616" stroke-width="1.8"/>
<circle cx="2126.6" cy="1301.8" r="5.199999999999999" fill="#58d23c" stroke="none" stroke-width="0" opacity="0.85"/>
<path d="M2118.7,1297.6 a6.1,6.1 0 0 1 0,8.4 M2124.1,1297.6 a6.1,6.1 0 0 1 0,8.4" fill="none" stroke="#58d23c" stroke-width="1" opacity="0.55"/>
<text x="2124.4" y="1284.2" font-size="23" text-anchor="middle" font-weight="normal" fill="#151515" stroke="#151515" stroke-width="0.55">ns</text>
<line x1="2229.8" y1="1090.4" x2="2229.8" y2="1077.5" stroke="#1e1e1e" stroke-width="3" />
<rect x="2216.5" y="1090.4" width="26.6" height="212.1" fill="#ffffff" stroke="#1e1e1e" stroke-width="3.2" />
<circle cx="2229.8" cy="1077.5" r="7.0" fill="#8c5a26" stroke="#262626" stroke-width="1.8" />
<line x1="2224.3" y1="1077.5" x2="2235.3" y2="1077.5" stroke="#222" stroke-width="2.2" opacity="0.75"/>
<circle cx="2229.8" cy="1104.0" r="7.0" fill="#dcb68d" stroke="#262626" stroke-width="1.8" />
<circle cx="2220.8" cy="1301.8" r="7.0" fill="#dcb68d" stroke="#262626" stroke-width="1.8" />
<circle cx="2238.8" cy="1301.8" r="7.0" fill="#dcb68d" stroke="#262626" stroke-width="1.8" />
<circle cx="2229.8" cy="1301.8" r="7.0" fill="#dcb68d" stroke="#262626" stroke-width="1.8" />
<text x="2229.3" y="1064.5" font-size="23" text-anchor="middle" font-weight="normal" fill="#151515" stroke="#151515" stroke-width="0.55">ns</text>
<line x1="2275.8" y1="1139.3" x2="2275.8" y2="1128.3" stroke="#1e1e1e" stroke-width="3" />
<rect x="2262.5" y="1139.3" width="26.6" height="163.2" fill="#ffffff" stroke="#1e1e1e" stroke-width="3.2" />
<circle cx="2275.8" cy="1128.3" r="7.0" fill="#8c5a26" stroke="#262626" stroke-width="1.8" />
<line x1="2270.3" y1="1128.3" x2="2281.3" y2="1128.3" stroke="#222" stroke-width="2.2" opacity="0.75"/>
<circle cx="2266.8" cy="1301.8" r="7.0" fill="#dcb68d" stroke="#262626" stroke-width="1.8" />
<circle cx="2284.8" cy="1301.8" r="7.0" fill="#dcb68d" stroke="#262626" stroke-width="1.8" />
<circle cx="2275.8" cy="1301.8" r="7.0" fill="#dcb68d" stroke="#262626" stroke-width="1.8" />
<text x="2278.0" y="1116.4" font-size="23" text-anchor="middle" font-weight="normal" fill="#151515" stroke="#151515" stroke-width="0.55">ns</text>
<rect x="2308.0" y="1294.2" width="27.6" height="15.2" rx="7.6" fill="#5e3b17" stroke="#161616" stroke-width="1.8"/>
<circle cx="2324.8" cy="1301.8" r="5.199999999999999" fill="#a06a2c" stroke="none" stroke-width="0" opacity="0.85"/>
<path d="M2317.0,1297.6 a6.1,6.1 0 0 1 0,8.4 M2322.3,1297.6 a6.1,6.1 0 0 1 0,8.4" fill="none" stroke="#a06a2c" stroke-width="1" opacity="0.55"/>
<text x="2321.0" y="1285.4" font-size="23" text-anchor="middle" font-weight="normal" fill="#151515" stroke="#151515" stroke-width="0.55">ns</text>
<rect x="212.5" y="1621.5" width="144.0" height="414.5" fill="#e2e8e7" stroke="none" stroke-width="0" />
<rect x="356.5" y="1621.5" width="143.8" height="414.5" fill="#c1cccb" stroke="none" stroke-width="0" />
<line x1="211.0" y1="1620.3" x2="211.0" y2="2036.0" stroke="#555" stroke-width="1.6" stroke-dasharray="2 2.2"/>
<line x1="356.5" y1="1620.3" x2="356.5" y2="2036.0" stroke="#555" stroke-width="1.6" stroke-dasharray="2 2.2"/>
<g transform="translate(67.9,1477.1)"><path d="M0,0 H25 V8.8 H9.7 V15.2 H23.5 V22.8 H9.7 V29.5 H25 V38 H0 Z" fill="#060606"/></g>
<text x="314.0" y="1526.0" font-size="25" text-anchor="middle" font-weight="bold" fill="#1d1d1d"  stroke="#1d1d1d" stroke-width="0.35">Nasal Cavity Viral mRNA</text>
<text x="314.0" y="1556.0" font-size="25" text-anchor="middle" font-weight="bold" fill="#1d1d1d"  stroke="#1d1d1d" stroke-width="0.35">(7-8 dpi)</text>
<text x="175.8" y="1604.2" font-size="23" text-anchor="middle" font-weight="bold" fill="#222"  stroke="#222" stroke-width="0.35">Placebo</text>
<text x="294.2" y="1604.2" font-size="23" text-anchor="middle" font-weight="bold" fill="#222"  stroke="#222" stroke-width="0.35">2 Doses</text>
<text x="420.6" y="1604.2" font-size="23" text-anchor="middle" font-weight="bold" fill="#222"  stroke="#222" stroke-width="0.35">1 Dose</text>
<line x1="131.5" y1="1618.6" x2="131.5" y2="2037.7" stroke="#1d1d1d" stroke-width="3.4" />
<line x1="121.1" y1="2036.0" x2="131.5" y2="2036.0" stroke="#1d1d1d" stroke-width="3.4" />
<text x="118.5" y="2044.9" font-size="24.6" text-anchor="end" font-weight="bold" fill="#1d1d1d"  stroke="#1d1d1d" stroke-width="0.35">0</text>
<line x1="121.1" y1="1976.6" x2="131.5" y2="1976.6" stroke="#1d1d1d" stroke-width="3.4" />
<text x="118.5" y="1985.5" font-size="24.6" text-anchor="end" font-weight="bold" fill="#1d1d1d"  stroke="#1d1d1d" stroke-width="0.35">1</text>
<line x1="121.1" y1="1917.2" x2="131.5" y2="1917.2" stroke="#1d1d1d" stroke-width="3.4" />
<text x="118.5" y="1926.1" font-size="24.6" text-anchor="end" font-weight="bold" fill="#1d1d1d"  stroke="#1d1d1d" stroke-width="0.35">2</text>
<line x1="121.1" y1="1857.8" x2="131.5" y2="1857.8" stroke="#1d1d1d" stroke-width="3.4" />
<text x="118.5" y="1866.7" font-size="24.6" text-anchor="end" font-weight="bold" fill="#1d1d1d"  stroke="#1d1d1d" stroke-width="0.35">3</text>
<line x1="121.1" y1="1798.5" x2="131.5" y2="1798.5" stroke="#1d1d1d" stroke-width="3.4" />
<text x="118.5" y="1807.3" font-size="24.6" text-anchor="end" font-weight="bold" fill="#1d1d1d"  stroke="#1d1d1d" stroke-width="0.35">4</text>
<line x1="121.1" y1="1739.1" x2="131.5" y2="1739.1" stroke="#1d1d1d" stroke-width="3.4" />
<text x="118.5" y="1747.9" font-size="24.6" text-anchor="end" font-weight="bold" fill="#1d1d1d"  stroke="#1d1d1d" stroke-width="0.35">5</text>
<line x1="121.1" y1="1679.7" x2="131.5" y2="1679.7" stroke="#1d1d1d" stroke-width="3.4" />
<text x="118.5" y="1688.5" font-size="24.6" text-anchor="end" font-weight="bold" fill="#1d1d1d"  stroke="#1d1d1d" stroke-width="0.35">6</text>
<line x1="121.1" y1="1620.3" x2="131.5" y2="1620.3" stroke="#1d1d1d" stroke-width="3.4" />
<text x="118.5" y="1629.2" font-size="24.6" text-anchor="end" font-weight="bold" fill="#1d1d1d"  stroke="#1d1d1d" stroke-width="0.35">7</text>
<text transform="translate(86.5,1823.0) rotate(-90)" font-size="24.9" text-anchor="middle" font-weight="bold" fill="#1d1d1d" stroke="#1d1d1d" stroke-width="0.35">GE copies µg<tspan dy="-9.5" font-size="18.9">-1</tspan><tspan dy="9.5"> tissue (log</tspan><tspan dy="4.2" font-size="18.9">10</tspan><tspan dy="-4.2">)</tspan></text>
<line x1="129.8" y1="2036.0" x2="491.6" y2="2036.0" stroke="#1d1d1d" stroke-width="3.4" />
<line x1="171.0" y1="2036.0" x2="171.0" y2="2046.0" stroke="#1d1d1d" stroke-width="3.4" />
<text x="171.0" y="2081.5" font-size="24.6" text-anchor="middle" font-weight="bold" fill="#1d1d1d"  stroke="#1d1d1d" stroke-width="0.35">0</text>
<line x1="249.8" y1="2036.0" x2="249.8" y2="2046.0" stroke="#1d1d1d" stroke-width="3.4" />
<text x="249.8" y="2081.5" font-size="24.6" text-anchor="middle" font-weight="bold" fill="#1d1d1d"  stroke="#1d1d1d" stroke-width="0.35">5</text>
<line x1="316.0" y1="2036.0" x2="316.0" y2="2046.0" stroke="#1d1d1d" stroke-width="3.4" />
<text x="316.0" y="2081.5" font-size="24.6" text-anchor="middle" font-weight="bold" fill="#1d1d1d"  stroke="#1d1d1d" stroke-width="0.35">25</text>
<line x1="396.5" y1="2036.0" x2="396.5" y2="2046.0" stroke="#1d1d1d" stroke-width="3.4" />
<text x="396.5" y="2081.5" font-size="24.6" text-anchor="middle" font-weight="bold" fill="#1d1d1d"  stroke="#1d1d1d" stroke-width="0.35">5</text>
<line x1="462.7" y1="2036.0" x2="462.7" y2="2046.0" stroke="#1d1d1d" stroke-width="3.4" />
<text x="462.7" y="2081.5" font-size="24.6" text-anchor="middle" font-weight="bold" fill="#1d1d1d"  stroke="#1d1d1d" stroke-width="0.35">25</text>
<text x="315.0" y="2116.0" font-size="25.5" text-anchor="middle" font-weight="bold" fill="#1d1d1d"  stroke="#1d1d1d" stroke-width="0.35">NVX-CoV2373 (µg)</text>
<text x="315.0" y="2146.0" font-size="25" text-anchor="middle" font-weight="bold" fill="#1d1d1d"  stroke="#1d1d1d" stroke-width="0.35">+ Matrix-M</text>
<line x1="133.5" y1="1978.2" x2="500.8" y2="1978.2" stroke="#2a2a2a" stroke-width="2.6" stroke-dasharray="7 5.2"/>
<line x1="171.5" y1="1759.7" x2="171.5" y2="1750.5" stroke="#1e1e1e" stroke-width="3" />
<line x1="171.5" y1="1875.5" x2="171.5" y2="1975.5" stroke="#1e1e1e" stroke-width="3" />
<rect x="159.8" y="1759.7" width="23.4" height="115.8" fill="#ffffff" stroke="#1e1e1e" stroke-width="3.2" />
<circle cx="171.5" cy="1750.5" r="7.0" fill="#9aa1a5" stroke="#262626" stroke-width="1.8" />
<line x1="166.0" y1="1750.5" x2="177.0" y2="1750.5" stroke="#222" stroke-width="2.2" opacity="0.75"/>
<circle cx="165.2" cy="1834.4" r="7.0" fill="#d2d5d7" stroke="#262626" stroke-width="1.8" />
<circle cx="177.5" cy="1842.3" r="7.0" fill="#d2d5d7" stroke="#262626" stroke-width="1.8" />
<circle cx="171.5" cy="1975.5" r="7.0" fill="#9aa1a5" stroke="#262626" stroke-width="1.8" />
<line x1="166.0" y1="1975.5" x2="177.0" y2="1975.5" stroke="#222" stroke-width="2.2" opacity="0.75"/>
<rect x="238.8" y="1968.3" width="24.6" height="14.4" rx="7.2" fill="#1f3f9c" stroke="#161616" stroke-width="1.8"/>
<circle cx="254.1" cy="1975.5" r="4.800000000000001" fill="#3b7be8" stroke="none" stroke-width="0" opacity="0.85"/>
<path d="M247.3,1971.5 a5.8,5.8 0 0 1 0,7.9 M252.3,1971.5 a5.8,5.8 0 0 1 0,7.9" fill="none" stroke="#3b7be8" stroke-width="1" opacity="0.55"/>
<rect x="304.5" y="1968.3" width="24.6" height="14.4" rx="7.2" fill="#3c176d" stroke="#161616" stroke-width="1.8"/>
<circle cx="319.8" cy="1975.5" r="4.800000000000001" fill="#6a30c2" stroke="none" stroke-width="0" opacity="0.85"/>
<path d="M313.0,1971.5 a5.8,5.8 0 0 1 0,7.9 M318.0,1971.5 a5.8,5.8 0 0 1 0,7.9" fill="none" stroke="#6a30c2" stroke-width="1" opacity="0.55"/>
<line x1="396.3" y1="1807.0" x2="396.3" y2="1789.0" stroke="#1e1e1e" stroke-width="3" />
<rect x="384.6" y="1807.0" width="23.4" height="171.0" fill="#ffffff" stroke="#1e1e1e" stroke-width="3.2" />
<circle cx="396.3" cy="1789.0" r="7.0" fill="#46bd2d" stroke="#262626" stroke-width="1.8" />
<line x1="390.8" y1="1789.0" x2="401.8" y2="1789.0" stroke="#222" stroke-width="2.2" opacity="0.75"/>
<circle cx="396.3" cy="1851.5" r="7.0" fill="#7fe45c" stroke="#262626" stroke-width="1.8" />
<circle cx="390.2" cy="1975.5" r="7.0" fill="#46bd2d" stroke="#262626" stroke-width="1.8" />
<circle cx="402.8" cy="1975.5" r="7.0" fill="#46bd2d" stroke="#262626" stroke-width="1.8" />
<line x1="462.7" y1="1810.0" x2="462.7" y2="1789.0" stroke="#1e1e1e" stroke-width="3" />
<rect x="451.0" y="1810.0" width="23.4" height="168.0" fill="#ffffff" stroke="#1e1e1e" stroke-width="3.2" />
<circle cx="462.7" cy="1789.0" r="7.0" fill="#8c5a26" stroke="#262626" stroke-width="1.8" />
<line x1="457.2" y1="1789.0" x2="468.2" y2="1789.0" stroke="#222" stroke-width="2.2" opacity="0.75"/>
<circle cx="453.7" cy="1975.5" r="7.0" fill="#8c5a26" stroke="#262626" stroke-width="1.8" />
<circle cx="471.7" cy="1975.5" r="7.0" fill="#8c5a26" stroke="#262626" stroke-width="1.8" />
<circle cx="462.7" cy="1975.5" r="7.0" fill="#8c5a26" stroke="#262626" stroke-width="1.8" />
<rect x="703.5" y="1604.4" width="132.7" height="431.0" fill="#e2e8e7" stroke="none" stroke-width="0" />
<rect x="836.2" y="1604.4" width="136.5" height="431.0" fill="#c1cccb" stroke="none" stroke-width="0" />
<line x1="702.0" y1="1603.6" x2="702.0" y2="2035.4" stroke="#555" stroke-width="1.6" stroke-dasharray="2 2.2"/>
<line x1="836.2" y1="1603.6" x2="836.2" y2="2035.4" stroke="#555" stroke-width="1.6" stroke-dasharray="2 2.2"/>
<g transform="translate(574.7,1477.1)"><path d="M0,0 H23 V8.9 H9.5 V15.5 H22.5 V23.1 H9.5 V38 H0 Z" fill="#060606"/></g>
<text x="808.5" y="1524.5" font-size="23.4" text-anchor="middle" font-weight="bold" fill="#1d1d1d"  stroke="#1d1d1d" stroke-width="0.35">Trachea Viral mRNA</text>
<text x="808.5" y="1553.5" font-size="23.4" text-anchor="middle" font-weight="bold" fill="#1d1d1d"  stroke="#1d1d1d" stroke-width="0.35">(7-8 dpi)</text>
<text x="669.9" y="1588.3" font-size="21.3" text-anchor="middle" font-weight="bold" fill="#222"  stroke="#222" stroke-width="0.35">Placebo</text>
<text x="778.9" y="1588.3" font-size="21.3" text-anchor="middle" font-weight="bold" fill="#222"  stroke="#222" stroke-width="0.35">2 Doses</text>
<text x="909.3" y="1588.3" font-size="21.3" text-anchor="middle" font-weight="bold" fill="#222"  stroke="#222" stroke-width="0.35">1 Dose</text>
<line x1="628.0" y1="1601.9" x2="628.0" y2="2037.1" stroke="#1d1d1d" stroke-width="3.4" />
<line x1="618.2" y1="2035.4" x2="628.0" y2="2035.4" stroke="#1d1d1d" stroke-width="3.4" />
<text x="615.7" y="2043.6" font-size="22.8" text-anchor="end" font-weight="bold" fill="#1d1d1d"  stroke="#1d1d1d" stroke-width="0.35">0</text>
<line x1="618.2" y1="1973.7" x2="628.0" y2="1973.7" stroke="#1d1d1d" stroke-width="3.4" />
<text x="615.7" y="1981.9" font-size="22.8" text-anchor="end" font-weight="bold" fill="#1d1d1d"  stroke="#1d1d1d" stroke-width="0.35">1</text>
<line x1="618.2" y1="1912.0" x2="628.0" y2="1912.0" stroke="#1d1d1d" stroke-width="3.4" />
<text x="615.7" y="1920.2" font-size="22.8" text-anchor="end" font-weight="bold" fill="#1d1d1d"  stroke="#1d1d1d" stroke-width="0.35">2</text>
<line x1="618.2" y1="1850.3" x2="628.0" y2="1850.3" stroke="#1d1d1d" stroke-width="3.4" />
<text x="615.7" y="1858.6" font-size="22.8" text-anchor="end" font-weight="bold" fill="#1d1d1d"  stroke="#1d1d1d" stroke-width="0.35">3</text>
<line x1="618.2" y1="1788.7" x2="628.0" y2="1788.7" stroke="#1d1d1d" stroke-width="3.4" />
<text x="615.7" y="1796.9" font-size="22.8" text-anchor="end" font-weight="bold" fill="#1d1d1d"  stroke="#1d1d1d" stroke-width="0.35">4</text>
<line x1="618.2" y1="1727.0" x2="628.0" y2="1727.0" stroke="#1d1d1d" stroke-width="3.4" />
<text x="615.7" y="1735.2" font-size="22.8" text-anchor="end" font-weight="bold" fill="#1d1d1d"  stroke="#1d1d1d" stroke-width="0.35">5</text>
<line x1="618.2" y1="1665.3" x2="628.0" y2="1665.3" stroke="#1d1d1d" stroke-width="3.4" />
<text x="615.7" y="1673.5" font-size="22.8" text-anchor="end" font-weight="bold" fill="#1d1d1d"  stroke="#1d1d1d" stroke-width="0.35">6</text>
<line x1="618.2" y1="1603.6" x2="628.0" y2="1603.6" stroke="#1d1d1d" stroke-width="3.4" />
<text x="615.7" y="1611.8" font-size="22.8" text-anchor="end" font-weight="bold" fill="#1d1d1d"  stroke="#1d1d1d" stroke-width="0.35">7</text>
<text transform="translate(590.5,1818.0) rotate(-90)" font-size="22.9" text-anchor="middle" font-weight="bold" fill="#1d1d1d" stroke="#1d1d1d" stroke-width="0.35">GE copies µg<tspan dy="-8.7" font-size="17.4">-1</tspan><tspan dy="8.7"> tissue (log</tspan><tspan dy="3.9" font-size="17.4">10</tspan><tspan dy="-3.9">)</tspan></text>
<line x1="626.3" y1="2035.4" x2="960.6" y2="2035.4" stroke="#1d1d1d" stroke-width="3.4" />
<line x1="664.7" y1="2035.4" x2="664.7" y2="2045.4" stroke="#1d1d1d" stroke-width="3.4" />
<text x="664.7" y="2078.9" font-size="22.8" text-anchor="middle" font-weight="bold" fill="#1d1d1d"  stroke="#1d1d1d" stroke-width="0.35">0</text>
<line x1="737.2" y1="2035.4" x2="737.2" y2="2045.4" stroke="#1d1d1d" stroke-width="3.4" />
<text x="737.2" y="2078.9" font-size="22.8" text-anchor="middle" font-weight="bold" fill="#1d1d1d"  stroke="#1d1d1d" stroke-width="0.35">5</text>
<line x1="799.5" y1="2035.4" x2="799.5" y2="2045.4" stroke="#1d1d1d" stroke-width="3.4" />
<text x="799.5" y="2078.9" font-size="22.8" text-anchor="middle" font-weight="bold" fill="#1d1d1d"  stroke="#1d1d1d" stroke-width="0.35">25</text>
<line x1="873.3" y1="2035.4" x2="873.3" y2="2045.4" stroke="#1d1d1d" stroke-width="3.4" />
<text x="873.3" y="2078.9" font-size="22.8" text-anchor="middle" font-weight="bold" fill="#1d1d1d"  stroke="#1d1d1d" stroke-width="0.35">5</text>
<line x1="935.1" y1="2035.4" x2="935.1" y2="2045.4" stroke="#1d1d1d" stroke-width="3.4" />
<text x="935.1" y="2078.9" font-size="22.8" text-anchor="middle" font-weight="bold" fill="#1d1d1d"  stroke="#1d1d1d" stroke-width="0.35">25</text>
<text x="797.5" y="2112.5" font-size="23.8" text-anchor="middle" font-weight="bold" fill="#1d1d1d"  stroke="#1d1d1d" stroke-width="0.35">NVX-CoV2373 (µg)</text>
<text x="797.5" y="2141.0" font-size="23.4" text-anchor="middle" font-weight="bold" fill="#1d1d1d"  stroke="#1d1d1d" stroke-width="0.35">+ Matrix-M</text>
<line x1="630.0" y1="1974.1" x2="983.4" y2="1974.1" stroke="#2a2a2a" stroke-width="2.6" stroke-dasharray="7 5.2"/>
<line x1="664.8" y1="1729.3" x2="664.8" y2="1719.0" stroke="#1e1e1e" stroke-width="3" />
<rect x="654.5" y="1729.3" width="20.6" height="247.2" fill="#ffffff" stroke="#1e1e1e" stroke-width="2.8" />
<circle cx="664.8" cy="1719.0" r="6.4" fill="#9aa1a5" stroke="#262626" stroke-width="1.8" />
<line x1="659.3" y1="1719.0" x2="670.3" y2="1719.0" stroke="#222" stroke-width="2.2" opacity="0.75"/>
<circle cx="658.5" cy="1974.1" r="6.4" fill="#d2d5d7" stroke="#262626" stroke-width="1.8" />
<circle cx="670.8" cy="1974.1" r="6.4" fill="#d2d5d7" stroke="#262626" stroke-width="1.8" />
<circle cx="664.8" cy="1974.1" r="6.4" fill="#d2d5d7" stroke="#262626" stroke-width="1.8" />
<rect x="726.8" y="1967.3" width="23.4" height="13.6" rx="6.8" fill="#1f3f9c" stroke="#161616" stroke-width="1.8"/>
<circle cx="741.5" cy="1974.1" r="4.4" fill="#3b7be8" stroke="none" stroke-width="0" opacity="0.85"/>
<path d="M734.7,1970.4 a5.4,5.4 0 0 1 0,7.5 M739.5,1970.4 a5.4,5.4 0 0 1 0,7.5" fill="none" stroke="#3b7be8" stroke-width="1" opacity="0.55"/>
<rect x="788.3" y="1967.3" width="23.4" height="13.6" rx="6.8" fill="#3c176d" stroke="#161616" stroke-width="1.8"/>
<circle cx="803.0" cy="1974.1" r="4.4" fill="#6a30c2" stroke="none" stroke-width="0" opacity="0.85"/>
<path d="M796.2,1970.4 a5.4,5.4 0 0 1 0,7.5 M801.0,1970.4 a5.4,5.4 0 0 1 0,7.5" fill="none" stroke="#6a30c2" stroke-width="1" opacity="0.55"/>
<rect x="862.1" y="1967.3" width="23.4" height="13.6" rx="6.8" fill="#2f8a22" stroke="#161616" stroke-width="1.8"/>
<circle cx="876.8" cy="1974.1" r="4.4" fill="#58d23c" stroke="none" stroke-width="0" opacity="0.85"/>
<path d="M870.0,1970.4 a5.4,5.4 0 0 1 0,7.5 M874.8,1970.4 a5.4,5.4 0 0 1 0,7.5" fill="none" stroke="#58d23c" stroke-width="1" opacity="0.55"/>
<rect x="924.9" y="1822.5" width="20.8" height="154.0" fill="#ffffff" stroke="#1e1e1e" stroke-width="2.8" />
<circle cx="928.9" cy="1816.5" r="6.4" fill="#dcb68d" stroke="#262626" stroke-width="1.8" />
<circle cx="935.1" cy="1823.2" r="6.4" fill="#dcb68d" stroke="#262626" stroke-width="1.8" />
<circle cx="929.1" cy="1974.1" r="6.4" fill="#8c5a26" stroke="#262626" stroke-width="1.8" />
<circle cx="941.5" cy="1974.1" r="6.4" fill="#8c5a26" stroke="#262626" stroke-width="1.8" />
<circle cx="935.3" cy="1974.1" r="6.4" fill="#8c5a26" stroke="#262626" stroke-width="1.8" />
<rect x="1220.6" y="1627.5" width="142.3" height="405.4" fill="#e2e8e7" stroke="none" stroke-width="0" />
<rect x="1362.9" y="1627.5" width="136.5" height="405.4" fill="#c1cccb" stroke="none" stroke-width="0" />
<line x1="1219.1" y1="1624.2" x2="1219.1" y2="2032.9" stroke="#555" stroke-width="1.6" stroke-dasharray="2 2.2"/>
<line x1="1362.9" y1="1624.2" x2="1362.9" y2="2032.9" stroke="#555" stroke-width="1.6" stroke-dasharray="2 2.2"/>
<g transform="translate(1073.3,1476.3)"><path d="M32.2,5.8 C28,4.8 25,4.7 21.5,4.7 C11,4.7 5,10.2 5,19.8 C5,29.5 11,34.8 21,34.8 C24,34.8 26.5,34.5 28.3,33.8" fill="none" stroke="#060606" stroke-width="9.6"/><path d="M16.7,17 H32.7 V37.5 C30,38.6 27,39.3 23.9,39.5 V24.3 H16.7 Z" fill="#060606"/></g>
<text x="1304.0" y="1537.0" font-size="25" text-anchor="middle" font-weight="bold" fill="#1d1d1d"  stroke="#1d1d1d" stroke-width="0.35">Upper Lung Viral mRNA</text>
<text x="1304.0" y="1567.0" font-size="25" text-anchor="middle" font-weight="bold" fill="#1d1d1d"  stroke="#1d1d1d" stroke-width="0.35">(7-8 dpi)</text>
<text x="1181.4" y="1610.1" font-size="23" text-anchor="middle" font-weight="bold" fill="#222"  stroke="#222" stroke-width="0.35">Placebo</text>
<text x="1300.2" y="1610.1" font-size="23" text-anchor="middle" font-weight="bold" fill="#222"  stroke="#222" stroke-width="0.35">2 Doses</text>
<text x="1435.6" y="1610.1" font-size="23" text-anchor="middle" font-weight="bold" fill="#222"  stroke="#222" stroke-width="0.35">1 Dose</text>
<line x1="1141.2" y1="1622.5" x2="1141.2" y2="2034.6" stroke="#1d1d1d" stroke-width="3.4" />
<line x1="1130.8" y1="2032.9" x2="1141.2" y2="2032.9" stroke="#1d1d1d" stroke-width="3.4" />
<text x="1128.2" y="2041.8" font-size="24.6" text-anchor="end" font-weight="bold" fill="#1d1d1d"  stroke="#1d1d1d" stroke-width="0.35">0</text>
<line x1="1130.8" y1="1974.5" x2="1141.2" y2="1974.5" stroke="#1d1d1d" stroke-width="3.4" />
<text x="1128.2" y="1983.4" font-size="24.6" text-anchor="end" font-weight="bold" fill="#1d1d1d"  stroke="#1d1d1d" stroke-width="0.35">1</text>
<line x1="1130.8" y1="1916.1" x2="1141.2" y2="1916.1" stroke="#1d1d1d" stroke-width="3.4" />
<text x="1128.2" y="1925.0" font-size="24.6" text-anchor="end" font-weight="bold" fill="#1d1d1d"  stroke="#1d1d1d" stroke-width="0.35">2</text>
<line x1="1130.8" y1="1857.7" x2="1141.2" y2="1857.7" stroke="#1d1d1d" stroke-width="3.4" />
<text x="1128.2" y="1866.6" font-size="24.6" text-anchor="end" font-weight="bold" fill="#1d1d1d"  stroke="#1d1d1d" stroke-width="0.35">3</text>
<line x1="1130.8" y1="1799.4" x2="1141.2" y2="1799.4" stroke="#1d1d1d" stroke-width="3.4" />
<text x="1128.2" y="1808.2" font-size="24.6" text-anchor="end" font-weight="bold" fill="#1d1d1d"  stroke="#1d1d1d" stroke-width="0.35">4</text>
<line x1="1130.8" y1="1741.0" x2="1141.2" y2="1741.0" stroke="#1d1d1d" stroke-width="3.4" />
<text x="1128.2" y="1749.8" font-size="24.6" text-anchor="end" font-weight="bold" fill="#1d1d1d"  stroke="#1d1d1d" stroke-width="0.35">5</text>
<line x1="1130.8" y1="1682.6" x2="1141.2" y2="1682.6" stroke="#1d1d1d" stroke-width="3.4" />
<text x="1128.2" y="1691.4" font-size="24.6" text-anchor="end" font-weight="bold" fill="#1d1d1d"  stroke="#1d1d1d" stroke-width="0.35">6</text>
<line x1="1130.8" y1="1624.2" x2="1141.2" y2="1624.2" stroke="#1d1d1d" stroke-width="3.4" />
<text x="1128.2" y="1633.1" font-size="24.6" text-anchor="end" font-weight="bold" fill="#1d1d1d"  stroke="#1d1d1d" stroke-width="0.35">7</text>
<text transform="translate(1095.5,1823.5) rotate(-90)" font-size="24.9" text-anchor="middle" font-weight="bold" fill="#1d1d1d" stroke="#1d1d1d" stroke-width="0.35">GE copies µg<tspan dy="-9.5" font-size="18.9">-1</tspan><tspan dy="9.5"> tissue (log</tspan><tspan dy="4.2" font-size="18.9">10</tspan><tspan dy="-4.2">)</tspan></text>
<line x1="1139.5" y1="2032.9" x2="1494.8" y2="2032.9" stroke="#1d1d1d" stroke-width="3.4" />
<line x1="1179.7" y1="2032.9" x2="1179.7" y2="2042.9" stroke="#1d1d1d" stroke-width="3.4" />
<text x="1179.7" y="2076.4" font-size="24.6" text-anchor="middle" font-weight="bold" fill="#1d1d1d"  stroke="#1d1d1d" stroke-width="0.35">0</text>
<line x1="1257.7" y1="2032.9" x2="1257.7" y2="2042.9" stroke="#1d1d1d" stroke-width="3.4" />
<text x="1257.7" y="2076.4" font-size="24.6" text-anchor="middle" font-weight="bold" fill="#1d1d1d"  stroke="#1d1d1d" stroke-width="0.35">5</text>
<line x1="1323.3" y1="2032.9" x2="1323.3" y2="2042.9" stroke="#1d1d1d" stroke-width="3.4" />
<text x="1323.3" y="2076.4" font-size="24.6" text-anchor="middle" font-weight="bold" fill="#1d1d1d"  stroke="#1d1d1d" stroke-width="0.35">25</text>
<line x1="1401.4" y1="2032.9" x2="1401.4" y2="2042.9" stroke="#1d1d1d" stroke-width="3.4" />
<text x="1401.4" y="2076.4" font-size="24.6" text-anchor="middle" font-weight="bold" fill="#1d1d1d"  stroke="#1d1d1d" stroke-width="0.35">5</text>
<line x1="1466.5" y1="2032.9" x2="1466.5" y2="2042.9" stroke="#1d1d1d" stroke-width="3.4" />
<text x="1466.5" y="2076.4" font-size="24.6" text-anchor="middle" font-weight="bold" fill="#1d1d1d"  stroke="#1d1d1d" stroke-width="0.35">25</text>
<text x="1322.0" y="2112.0" font-size="25.5" text-anchor="middle" font-weight="bold" fill="#1d1d1d"  stroke="#1d1d1d" stroke-width="0.35">NVX-CoV2373 (µg)</text>
<text x="1322.0" y="2142.0" font-size="25" text-anchor="middle" font-weight="bold" fill="#1d1d1d"  stroke="#1d1d1d" stroke-width="0.35">+ Matrix-M</text>
<line x1="1143.2" y1="1975.0" x2="1501.2" y2="1975.0" stroke="#2a2a2a" stroke-width="2.6" stroke-dasharray="7 5.2"/>
<line x1="1180.2" y1="1707.8" x2="1180.2" y2="1698.8" stroke="#1e1e1e" stroke-width="3" />
<line x1="1180.2" y1="1825.6" x2="1180.2" y2="1975.0" stroke="#1e1e1e" stroke-width="3" />
<rect x="1169.1" y="1707.8" width="22.2" height="117.8" fill="#ffffff" stroke="#1e1e1e" stroke-width="3.2" />
<line x1="1169.1" y1="1776.5" x2="1191.3" y2="1776.5" stroke="#1e1e1e" stroke-width="2.6" />
<circle cx="1180.2" cy="1698.8" r="7.0" fill="#9aa1a5" stroke="#262626" stroke-width="1.8" />
<line x1="1174.7" y1="1698.8" x2="1185.7" y2="1698.8" stroke="#222" stroke-width="2.2" opacity="0.75"/>
<circle cx="1180.2" cy="1767.0" r="7.0" fill="#d2d5d7" stroke="#262626" stroke-width="1.8" />
<circle cx="1180.2" cy="1793.2" r="7.0" fill="#d2d5d7" stroke="#262626" stroke-width="1.8" />
<circle cx="1180.2" cy="1975.0" r="7.0" fill="#9aa1a5" stroke="#262626" stroke-width="1.8" />
<line x1="1174.7" y1="1975.0" x2="1185.7" y2="1975.0" stroke="#222" stroke-width="2.2" opacity="0.75"/>
<rect x="1246.4" y="1967.8" width="24.6" height="14.4" rx="7.2" fill="#1f3f9c" stroke="#161616" stroke-width="1.8"/>
<circle cx="1261.7" cy="1975.0" r="4.800000000000001" fill="#3b7be8" stroke="none" stroke-width="0" opacity="0.85"/>
<path d="M1254.9,1971.0 a5.8,5.8 0 0 1 0,7.9 M1259.9,1971.0 a5.8,5.8 0 0 1 0,7.9" fill="none" stroke="#3b7be8" stroke-width="1" opacity="0.55"/>
<rect x="1311.5" y="1967.8" width="24.6" height="14.4" rx="7.2" fill="#3c176d" stroke="#161616" stroke-width="1.8"/>
<circle cx="1326.8" cy="1975.0" r="4.800000000000001" fill="#6a30c2" stroke="none" stroke-width="0" opacity="0.85"/>
<path d="M1320.0,1971.0 a5.8,5.8 0 0 1 0,7.9 M1325.0,1971.0 a5.8,5.8 0 0 1 0,7.9" fill="none" stroke="#6a30c2" stroke-width="1" opacity="0.55"/>
<line x1="1402.3" y1="1827.6" x2="1402.3" y2="1807.3" stroke="#1e1e1e" stroke-width="3" />
<rect x="1391.7" y="1827.6" width="21.2" height="149.9" fill="#ffffff" stroke="#1e1e1e" stroke-width="3.2" />
<circle cx="1402.3" cy="1807.3" r="7.0" fill="#46bd2d" stroke="#262626" stroke-width="1.8" />
<line x1="1396.8" y1="1807.3" x2="1407.8" y2="1807.3" stroke="#222" stroke-width="2.2" opacity="0.75"/>
<circle cx="1395.8" cy="1975.0" r="7.0" fill="#46bd2d" stroke="#262626" stroke-width="1.8" />
<circle cx="1408.5" cy="1975.0" r="7.0" fill="#46bd2d" stroke="#262626" stroke-width="1.8" />
<circle cx="1402.3" cy="1975.0" r="7.0" fill="#46bd2d" stroke="#262626" stroke-width="1.8" />
<rect x="1454.2" y="1967.8" width="24.6" height="14.4" rx="7.2" fill="#5e3b17" stroke="#161616" stroke-width="1.8"/>
<circle cx="1469.5" cy="1975.0" r="4.800000000000001" fill="#a06a2c" stroke="none" stroke-width="0" opacity="0.85"/>
<path d="M1462.7,1971.0 a5.8,5.8 0 0 1 0,7.9 M1467.7,1971.0 a5.8,5.8 0 0 1 0,7.9" fill="none" stroke="#a06a2c" stroke-width="1" opacity="0.55"/>
<rect x="1704.0" y="1610.0" width="147.8" height="412.0" fill="#e2e8e7" stroke="none" stroke-width="0" />
<rect x="1851.8" y="1610.0" width="149.5" height="412.0" fill="#c1cccb" stroke="none" stroke-width="0" />
<line x1="1702.5" y1="1606.0" x2="1702.5" y2="2022.0" stroke="#555" stroke-width="1.6" stroke-dasharray="2 2.2"/>
<line x1="1851.8" y1="1606.0" x2="1851.8" y2="2022.0" stroke="#555" stroke-width="1.6" stroke-dasharray="2 2.2"/>
<text x="1819.0" y="1517.0" font-size="24.6" text-anchor="middle" font-weight="bold" fill="#1d1d1d"  stroke="#1d1d1d" stroke-width="0.35">Middle Lung Viral mRNA</text>
<text x="1819.0" y="1546.0" font-size="24.6" text-anchor="middle" font-weight="bold" fill="#1d1d1d"  stroke="#1d1d1d" stroke-width="0.35">(7-8 dpi)</text>
<text x="1668.0" y="1589.5" font-size="23" text-anchor="middle" font-weight="bold" fill="#222"  stroke="#222" stroke-width="0.35">Placebo</text>
<text x="1788.0" y="1589.5" font-size="23" text-anchor="middle" font-weight="bold" fill="#222"  stroke="#222" stroke-width="0.35">2 Doses</text>
<text x="1928.0" y="1589.5" font-size="23" text-anchor="middle" font-weight="bold" fill="#222"  stroke="#222" stroke-width="0.35">1 Dose</text>
<line x1="1621.5" y1="1604.3" x2="1621.5" y2="2023.7" stroke="#1d1d1d" stroke-width="3.4" />
<line x1="1611.1" y1="2022.0" x2="1621.5" y2="2022.0" stroke="#1d1d1d" stroke-width="3.4" />
<text x="1608.5" y="2030.9" font-size="24.6" text-anchor="end" font-weight="bold" fill="#1d1d1d"  stroke="#1d1d1d" stroke-width="0.35">0</text>
<line x1="1611.1" y1="1962.6" x2="1621.5" y2="1962.6" stroke="#1d1d1d" stroke-width="3.4" />
<text x="1608.5" y="1971.4" font-size="24.6" text-anchor="end" font-weight="bold" fill="#1d1d1d"  stroke="#1d1d1d" stroke-width="0.35">1</text>
<line x1="1611.1" y1="1903.1" x2="1621.5" y2="1903.1" stroke="#1d1d1d" stroke-width="3.4" />
<text x="1608.5" y="1912.0" font-size="24.6" text-anchor="end" font-weight="bold" fill="#1d1d1d"  stroke="#1d1d1d" stroke-width="0.35">2</text>
<line x1="1611.1" y1="1843.7" x2="1621.5" y2="1843.7" stroke="#1d1d1d" stroke-width="3.4" />
<text x="1608.5" y="1852.6" font-size="24.6" text-anchor="end" font-weight="bold" fill="#1d1d1d"  stroke="#1d1d1d" stroke-width="0.35">3</text>
<line x1="1611.1" y1="1784.3" x2="1621.5" y2="1784.3" stroke="#1d1d1d" stroke-width="3.4" />
<text x="1608.5" y="1793.1" font-size="24.6" text-anchor="end" font-weight="bold" fill="#1d1d1d"  stroke="#1d1d1d" stroke-width="0.35">4</text>
<line x1="1611.1" y1="1724.9" x2="1621.5" y2="1724.9" stroke="#1d1d1d" stroke-width="3.4" />
<text x="1608.5" y="1733.7" font-size="24.6" text-anchor="end" font-weight="bold" fill="#1d1d1d"  stroke="#1d1d1d" stroke-width="0.35">5</text>
<line x1="1611.1" y1="1665.4" x2="1621.5" y2="1665.4" stroke="#1d1d1d" stroke-width="3.4" />
<text x="1608.5" y="1674.3" font-size="24.6" text-anchor="end" font-weight="bold" fill="#1d1d1d"  stroke="#1d1d1d" stroke-width="0.35">6</text>
<line x1="1611.1" y1="1606.0" x2="1621.5" y2="1606.0" stroke="#1d1d1d" stroke-width="3.4" />
<text x="1608.5" y="1614.9" font-size="24.6" text-anchor="end" font-weight="bold" fill="#1d1d1d"  stroke="#1d1d1d" stroke-width="0.35">7</text>
<text transform="translate(1576.5,1809.0) rotate(-90)" font-size="24.9" text-anchor="middle" font-weight="bold" fill="#1d1d1d" stroke="#1d1d1d" stroke-width="0.35">GE copies µg<tspan dy="-9.5" font-size="18.9">-1</tspan><tspan dy="9.5"> tissue (log</tspan><tspan dy="4.2" font-size="18.9">10</tspan><tspan dy="-4.2">)</tspan></text>
<line x1="1619.8" y1="2022.0" x2="1988.5" y2="2022.0" stroke="#1d1d1d" stroke-width="3.4" />
<line x1="1660.5" y1="2022.0" x2="1660.5" y2="2032.0" stroke="#1d1d1d" stroke-width="3.4" />
<text x="1660.5" y="2067.0" font-size="24.6" text-anchor="middle" font-weight="bold" fill="#1d1d1d"  stroke="#1d1d1d" stroke-width="0.35">0</text>
<line x1="1744.0" y1="2022.0" x2="1744.0" y2="2032.0" stroke="#1d1d1d" stroke-width="3.4" />
<text x="1744.0" y="2067.0" font-size="24.6" text-anchor="middle" font-weight="bold" fill="#1d1d1d"  stroke="#1d1d1d" stroke-width="0.35">5</text>
<line x1="1810.0" y1="2022.0" x2="1810.0" y2="2032.0" stroke="#1d1d1d" stroke-width="3.4" />
<text x="1810.0" y="2067.0" font-size="24.6" text-anchor="middle" font-weight="bold" fill="#1d1d1d"  stroke="#1d1d1d" stroke-width="0.35">25</text>
<line x1="1892.0" y1="2022.0" x2="1892.0" y2="2032.0" stroke="#1d1d1d" stroke-width="3.4" />
<text x="1892.0" y="2067.0" font-size="24.6" text-anchor="middle" font-weight="bold" fill="#1d1d1d"  stroke="#1d1d1d" stroke-width="0.35">5</text>
<line x1="1959.0" y1="2022.0" x2="1959.0" y2="2032.0" stroke="#1d1d1d" stroke-width="3.4" />
<text x="1959.0" y="2067.0" font-size="24.6" text-anchor="middle" font-weight="bold" fill="#1d1d1d"  stroke="#1d1d1d" stroke-width="0.35">25</text>
<text x="1810.0" y="2102.0" font-size="25.6" text-anchor="middle" font-weight="bold" fill="#1d1d1d"  stroke="#1d1d1d" stroke-width="0.35">NVX-CoV2373 (µg)</text>
<text x="1810.0" y="2131.0" font-size="24.6" text-anchor="middle" font-weight="bold" fill="#1d1d1d"  stroke="#1d1d1d" stroke-width="0.35">+ Matrix-M</text>
<line x1="1623.5" y1="1965.0" x2="1995.0" y2="1965.0" stroke="#2a2a2a" stroke-width="2.6" stroke-dasharray="7 5.2"/>
<line x1="1661.9" y1="1809.0" x2="1661.9" y2="1799.5" stroke="#1e1e1e" stroke-width="3" />
<rect x="1650.3" y="1809.0" width="23.2" height="156.0" fill="#ffffff" stroke="#1e1e1e" stroke-width="3.2" />
<line x1="1650.3" y1="1884.5" x2="1673.5" y2="1884.5" stroke="#1e1e1e" stroke-width="2.6" />
<circle cx="1661.9" cy="1799.5" r="7.2" fill="#9aa1a5" stroke="#262626" stroke-width="1.8" />
<line x1="1656.4" y1="1799.5" x2="1667.4" y2="1799.5" stroke="#222" stroke-width="2.2" opacity="0.75"/>
<circle cx="1661.9" cy="1868.0" r="7.2" fill="#d2d5d7" stroke="#262626" stroke-width="1.8" />
<circle cx="1655.0" cy="1962.5" r="7.2" fill="#d2d5d7" stroke="#262626" stroke-width="1.8" />
<circle cx="1668.8" cy="1962.5" r="7.2" fill="#d2d5d7" stroke="#262626" stroke-width="1.8" />
<rect x="1731.1" y="1955.2" width="25.4" height="14.6" rx="7.3" fill="#1f3f9c" stroke="#161616" stroke-width="1.8"/>
<circle cx="1746.8" cy="1962.5" r="4.9" fill="#3b7be8" stroke="none" stroke-width="0" opacity="0.85"/>
<path d="M1739.7,1958.5 a5.8,5.8 0 0 1 0,8.0 M1744.8,1958.5 a5.8,5.8 0 0 1 0,8.0" fill="none" stroke="#3b7be8" stroke-width="1" opacity="0.55"/>
<rect x="1798.1" y="1955.2" width="25.4" height="14.6" rx="7.3" fill="#3c176d" stroke="#161616" stroke-width="1.8"/>
<circle cx="1813.8" cy="1962.5" r="4.9" fill="#6a30c2" stroke="none" stroke-width="0" opacity="0.85"/>
<path d="M1806.7,1958.5 a5.8,5.8 0 0 1 0,8.0 M1811.8,1958.5 a5.8,5.8 0 0 1 0,8.0" fill="none" stroke="#6a30c2" stroke-width="1" opacity="0.55"/>
<line x1="1892.5" y1="1876.0" x2="1892.5" y2="1855.8" stroke="#1e1e1e" stroke-width="3" />
<rect x="1881.5" y="1876.0" width="22.0" height="89.0" fill="#ffffff" stroke="#1e1e1e" stroke-width="3.2" />
<circle cx="1892.5" cy="1855.8" r="7.2" fill="#46bd2d" stroke="#262626" stroke-width="1.8" />
<line x1="1887.0" y1="1855.8" x2="1898.0" y2="1855.8" stroke="#222" stroke-width="2.2" opacity="0.75"/>
<circle cx="1887.0" cy="1962.5" r="7.2" fill="#46bd2d" stroke="#262626" stroke-width="1.8" />
<circle cx="1898.0" cy="1962.5" r="7.2" fill="#46bd2d" stroke="#262626" stroke-width="1.8" />
<circle cx="1892.5" cy="1962.5" r="7.2" fill="#46bd2d" stroke="#262626" stroke-width="1.8" />
<rect x="1947.3" y="1955.2" width="25.4" height="14.6" rx="7.3" fill="#5e3b17" stroke="#161616" stroke-width="1.8"/>
<circle cx="1963.0" cy="1962.5" r="4.9" fill="#a06a2c" stroke="none" stroke-width="0" opacity="0.85"/>
<path d="M1955.9,1958.5 a5.8,5.8 0 0 1 0,8.0 M1961.0,1958.5 a5.8,5.8 0 0 1 0,8.0" fill="none" stroke="#a06a2c" stroke-width="1" opacity="0.55"/>
<rect x="2194.2" y="1616.0" width="143.9" height="416.6" fill="#e2e8e7" stroke="none" stroke-width="0" />
<rect x="2338.1" y="1616.0" width="138.7" height="416.6" fill="#c1cccb" stroke="none" stroke-width="0" />
<line x1="2192.7" y1="1616.8" x2="2192.7" y2="2032.6" stroke="#555" stroke-width="1.6" stroke-dasharray="2 2.2"/>
<line x1="2338.1" y1="1616.8" x2="2338.1" y2="2032.6" stroke="#555" stroke-width="1.6" stroke-dasharray="2 2.2"/>
<text x="2300.0" y="1531.0" font-size="25.3" text-anchor="middle" font-weight="bold" fill="#1d1d1d"  stroke="#1d1d1d" stroke-width="0.35">Lower Lung Viral mRNA</text>
<text x="2300.0" y="1562.0" font-size="25.3" text-anchor="middle" font-weight="bold" fill="#1d1d1d"  stroke="#1d1d1d" stroke-width="0.35">(7-8 dpi)</text>
<text x="2152.5" y="1599.7" font-size="23.4" text-anchor="middle" font-weight="bold" fill="#222"  stroke="#222" stroke-width="0.35">Placebo</text>
<text x="2270.4" y="1599.7" font-size="23.4" text-anchor="middle" font-weight="bold" fill="#222"  stroke="#222" stroke-width="0.35">2 Doses</text>
<text x="2410.3" y="1599.7" font-size="23.4" text-anchor="middle" font-weight="bold" fill="#222"  stroke="#222" stroke-width="0.35">1 Dose</text>
<line x1="2112.8" y1="1615.1" x2="2112.8" y2="2034.3" stroke="#1d1d1d" stroke-width="3.4" />
<line x1="2102.4" y1="2032.6" x2="2112.8" y2="2032.6" stroke="#1d1d1d" stroke-width="3.4" />
<text x="2099.8" y="2041.5" font-size="24.6" text-anchor="end" font-weight="bold" fill="#1d1d1d"  stroke="#1d1d1d" stroke-width="0.35">0</text>
<line x1="2102.4" y1="1973.2" x2="2112.8" y2="1973.2" stroke="#1d1d1d" stroke-width="3.4" />
<text x="2099.8" y="1982.1" font-size="24.6" text-anchor="end" font-weight="bold" fill="#1d1d1d"  stroke="#1d1d1d" stroke-width="0.35">1</text>
<line x1="2102.4" y1="1913.8" x2="2112.8" y2="1913.8" stroke="#1d1d1d" stroke-width="3.4" />
<text x="2099.8" y="1922.7" font-size="24.6" text-anchor="end" font-weight="bold" fill="#1d1d1d"  stroke="#1d1d1d" stroke-width="0.35">2</text>
<line x1="2102.4" y1="1854.4" x2="2112.8" y2="1854.4" stroke="#1d1d1d" stroke-width="3.4" />
<text x="2099.8" y="1863.3" font-size="24.6" text-anchor="end" font-weight="bold" fill="#1d1d1d"  stroke="#1d1d1d" stroke-width="0.35">3</text>
<line x1="2102.4" y1="1795.0" x2="2112.8" y2="1795.0" stroke="#1d1d1d" stroke-width="3.4" />
<text x="2099.8" y="1803.9" font-size="24.6" text-anchor="end" font-weight="bold" fill="#1d1d1d"  stroke="#1d1d1d" stroke-width="0.35">4</text>
<line x1="2102.4" y1="1735.6" x2="2112.8" y2="1735.6" stroke="#1d1d1d" stroke-width="3.4" />
<text x="2099.8" y="1744.5" font-size="24.6" text-anchor="end" font-weight="bold" fill="#1d1d1d"  stroke="#1d1d1d" stroke-width="0.35">5</text>
<line x1="2102.4" y1="1676.2" x2="2112.8" y2="1676.2" stroke="#1d1d1d" stroke-width="3.4" />
<text x="2099.8" y="1685.1" font-size="24.6" text-anchor="end" font-weight="bold" fill="#1d1d1d"  stroke="#1d1d1d" stroke-width="0.35">6</text>
<line x1="2102.4" y1="1616.8" x2="2112.8" y2="1616.8" stroke="#1d1d1d" stroke-width="3.4" />
<text x="2099.8" y="1625.7" font-size="24.6" text-anchor="end" font-weight="bold" fill="#1d1d1d"  stroke="#1d1d1d" stroke-width="0.35">7</text>
<text transform="translate(2069.0,1821.0) rotate(-90)" font-size="25.05" text-anchor="middle" font-weight="bold" fill="#1d1d1d" stroke="#1d1d1d" stroke-width="0.35">GE copies µg<tspan dy="-9.5" font-size="19.0">-1</tspan><tspan dy="9.5"> tissue (log</tspan><tspan dy="4.3" font-size="19.0">10</tspan><tspan dy="-4.3">)</tspan></text>
<line x1="2111.1" y1="2032.6" x2="2471.3" y2="2032.6" stroke="#1d1d1d" stroke-width="3.4" />
<line x1="2152.3" y1="2032.6" x2="2152.3" y2="2042.6" stroke="#1d1d1d" stroke-width="3.4" />
<text x="2152.3" y="2077.6" font-size="24.6" text-anchor="middle" font-weight="bold" fill="#1d1d1d"  stroke="#1d1d1d" stroke-width="0.35">0</text>
<line x1="2231.6" y1="2032.6" x2="2231.6" y2="2042.6" stroke="#1d1d1d" stroke-width="3.4" />
<text x="2231.6" y="2077.6" font-size="24.6" text-anchor="middle" font-weight="bold" fill="#1d1d1d"  stroke="#1d1d1d" stroke-width="0.35">5</text>
<line x1="2298.1" y1="2032.6" x2="2298.1" y2="2042.6" stroke="#1d1d1d" stroke-width="3.4" />
<text x="2298.1" y="2077.6" font-size="24.6" text-anchor="middle" font-weight="bold" fill="#1d1d1d"  stroke="#1d1d1d" stroke-width="0.35">25</text>
<line x1="2377.0" y1="2032.6" x2="2377.0" y2="2042.6" stroke="#1d1d1d" stroke-width="3.4" />
<text x="2377.0" y="2077.6" font-size="24.6" text-anchor="middle" font-weight="bold" fill="#1d1d1d"  stroke="#1d1d1d" stroke-width="0.35">5</text>
<line x1="2443.2" y1="2032.6" x2="2443.2" y2="2042.6" stroke="#1d1d1d" stroke-width="3.4" />
<text x="2443.2" y="2077.6" font-size="24.6" text-anchor="middle" font-weight="bold" fill="#1d1d1d"  stroke="#1d1d1d" stroke-width="0.35">25</text>
<text x="2296.5" y="2115.0" font-size="25.9" text-anchor="middle" font-weight="bold" fill="#1d1d1d"  stroke="#1d1d1d" stroke-width="0.35">NVX-CoV2373 (µg)</text>
<text x="2296.5" y="2144.5" font-size="25.3" text-anchor="middle" font-weight="bold" fill="#1d1d1d"  stroke="#1d1d1d" stroke-width="0.35">+ Matrix-M</text>
<line x1="2114.8" y1="1975.5" x2="2465.5" y2="1975.5" stroke="#2a2a2a" stroke-width="2.6" stroke-dasharray="7 5.2"/>
<line x1="2153.1" y1="1671.0" x2="2153.1" y2="1661.0" stroke="#1e1e1e" stroke-width="3" />
<rect x="2141.7" y="1671.0" width="22.8" height="304.5" fill="#ffffff" stroke="#1e1e1e" stroke-width="3.2" />
<line x1="2141.7" y1="1772.4" x2="2164.5" y2="1772.4" stroke="#1e1e1e" stroke-width="2.6" />
<circle cx="2153.1" cy="1661.0" r="7.0" fill="#9aa1a5" stroke="#262626" stroke-width="1.8" />
<line x1="2147.6" y1="1661.0" x2="2158.6" y2="1661.0" stroke="#222" stroke-width="2.2" opacity="0.75"/>
<circle cx="2153.1" cy="1754.2" r="7.0" fill="#d2d5d7" stroke="#262626" stroke-width="1.8" />
<circle cx="2147.0" cy="1973.4" r="7.0" fill="#d2d5d7" stroke="#262626" stroke-width="1.8" />
<circle cx="2159.4" cy="1973.4" r="7.0" fill="#d2d5d7" stroke="#262626" stroke-width="1.8" />
<rect x="2219.7" y="1966.2" width="25.0" height="14.4" rx="7.2" fill="#1f3f9c" stroke="#161616" stroke-width="1.8"/>
<circle cx="2235.2" cy="1973.4" r="4.800000000000001" fill="#3b7be8" stroke="none" stroke-width="0" opacity="0.85"/>
<path d="M2228.2,1969.4 a5.8,5.8 0 0 1 0,7.9 M2233.2,1969.4 a5.8,5.8 0 0 1 0,7.9" fill="none" stroke="#3b7be8" stroke-width="1" opacity="0.55"/>
<rect x="2285.6" y="1966.2" width="25.0" height="14.4" rx="7.2" fill="#3c176d" stroke="#161616" stroke-width="1.8"/>
<circle cx="2301.1" cy="1973.4" r="4.800000000000001" fill="#6a30c2" stroke="none" stroke-width="0" opacity="0.85"/>
<path d="M2294.1,1969.4 a5.8,5.8 0 0 1 0,7.9 M2299.1,1969.4 a5.8,5.8 0 0 1 0,7.9" fill="none" stroke="#6a30c2" stroke-width="1" opacity="0.55"/>
<rect x="2365.8" y="1795.7" width="23.4" height="179.8" fill="#ffffff" stroke="#1e1e1e" stroke-width="3.2" />
<line x1="2365.8" y1="1865.2" x2="2389.2" y2="1865.2" stroke="#1e1e1e" stroke-width="2.6" />
<circle cx="2371.4" cy="1791.0" r="7.0" fill="#46bd2d" stroke="#262626" stroke-width="1.8" />
<circle cx="2384.1" cy="1795.5" r="7.0" fill="#46bd2d" stroke="#262626" stroke-width="1.8" />
<circle cx="2377.5" cy="1865.2" r="7.0" fill="#7fe45c" stroke="#262626" stroke-width="1.8" />
<circle cx="2371.4" cy="1973.4" r="7.0" fill="#46bd2d" stroke="#262626" stroke-width="1.8" />
<circle cx="2384.1" cy="1973.4" r="7.0" fill="#46bd2d" stroke="#262626" stroke-width="1.8" />
<rect x="2430.7" y="1966.2" width="25.0" height="14.4" rx="7.2" fill="#5e3b17" stroke="#161616" stroke-width="1.8"/>
<circle cx="2446.2" cy="1973.4" r="4.800000000000001" fill="#a06a2c" stroke="none" stroke-width="0" opacity="0.85"/>
<path d="M2439.2,1969.4 a5.8,5.8 0 0 1 0,7.9 M2444.2,1969.4 a5.8,5.8 0 0 1 0,7.9" fill="none" stroke="#a06a2c" stroke-width="1" opacity="0.55"/>
</svg>
</body></html>
